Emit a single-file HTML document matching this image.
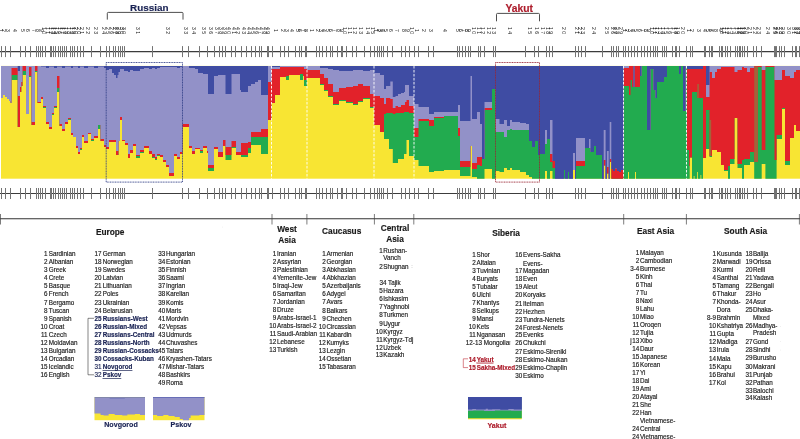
<!DOCTYPE html><html><head><meta charset="utf-8"><title>Admixture</title><style>html,body{margin:0;padding:0;background:#fff}body{width:800px;height:439px;overflow:hidden}</style></head><body><svg width="800" height="439" viewBox="0 0 800 439" style="display:block;font-family:'Liberation Sans',sans-serif;filter:blur(0.35px)">
<rect width="800" height="439" fill="#fff"/>
<g id="chart">
<rect x="1" y="65.9" width="799" height="112.8" fill="#f8e533"/>
<path d="M1 65.9 L1 98 L3 98 L3 95 L5 95 L5 97 L7 97 L7 99 L9 99 L9 101 L10.5 101 L10.5 103 L11.5 103 L11.5 80 L17.7 80 L17.7 127 L20 127 L20 92 L21.3 92 L21.3 86 L22.5 86 L22.5 75 L26 75 L26 114 L29 114 L29 77 L31.5 77 L31.5 125 L35 125 L35 72 L37.5 72 L37.5 103 L41 103 L41 99 L43 99 L43 108 L46 108 L46 124 L49 124 L49 129 L52 129 L52 115 L54 115 L54 108 L57 108 L57 92 L59.5 92 L59.5 126 L62 126 L62 131 L65 131 L65 124 L68 124 L68 120 L71 120 L71 135 L73 135 L73 137 L76 137 L76 148 L78 148 L78 154 L80 154 L80 150 L82 150 L82 137 L84 137 L84 143 L88 143 L88 134 L91 134 L91 141 L94 141 L94 138 L98 138 L98 129 L100.5 129 L100.5 141 L104 141 L104 147 L106 147 L106 149 L109 149 L109 142 L112 142 L112 142 L114 142 L114 142 L116 142 L116 155 L117.5 155 L117.5 155 L118.5 155 L118.5 141 L120 141 L120 120 L122 120 L122 141 L124 141 L124 141 L125 141 L125 145 L128 145 L128 158 L130 158 L130 153 L133 153 L133 146 L136 146 L136 158 L140 158 L140 153 L144 153 L144 148 L149 148 L149 154 L152 154 L152 158 L155 158 L155 160 L157 160 L157 156 L160 156 L160 157 L163 157 L163 162 L166 162 L166 167 L169 167 L169 176 L174 176 L174 156 L177 156 L177 159 L180 159 L180 154 L182.5 154 L182.5 127 L189 127 L189 148 L192 148 L192 154 L195 154 L195 149 L198 149 L198 149 L200 149 L200 153 L203 153 L203 148 L207 148 L207 153 L208 153 L208 171 L214 171 L214 149 L218 149 L218 157 L223 157 L223 146 L225.5 146 L225.5 160 L231.5 160 L231.5 148 L236 148 L236 155 L240 155 L240 155 L241 155 L241 157 L248 157 L248 153 L251 153 L251 145 L255 145 L255 145 L258 145 L258 145 L261 145 L261 154 L268 154 L268 120 L271.5 120 L271.5 103 L275 103 L275 95 L280 95 L280 77 L286 77 L286 80 L289 80 L289 75 L300 75 L300 80 L303 80 L303 76 L304 76 L304 86 L307 86 L307 78 L320 78 L320 85 L324 85 L324 91 L328 91 L328 97 L333 97 L333 105 L339 105 L339 101 L346 101 L346 103 L353 103 L353 105 L358 105 L358 102 L363 102 L363 99 L370 99 L370 108 L374 108 L374 125 L380 125 L380 132 L384 132 L384 139 L386 139 L386 139 L389 139 L389 149 L390.3 149 L390.3 149 L392.8 149 L392.8 163 L395.5 163 L395.5 163 L398 163 L398 159 L401 159 L401 159 L404 159 L404 154 L405 154 L405 154 L406.5 154 L406.5 140 L409 140 L409 156 L414 156 L414 160 L418.5 160 L418.5 166 L429 166 L429 172 L434 172 L434 171 L444 171 L444 170 L458 170 L458 170 L460 170 L460 176 L470.5 176 L470.5 146 L472 146 L472 177 L477 177 L477 178.7 L480 178.7 L480 178.7 L482 178.7 L482 178.7 L484.5 178.7 L484.5 169 L492 169 L492 178.7 L495.5 178.7 L495.5 171 L499.5 171 L499.5 172 L504 172 L504 168 L507 168 L507 170 L510 170 L510 168 L512 168 L512 170 L520 170 L520 172 L526 172 L526 175 L529 175 L529 177 L532 177 L532 178.7 L535 178.7 L535 178.7 L538 178.7 L538 178.7 L540 178.7 L540 178.7 L545 178.7 L545 171 L547 171 L547 178.7 L550 178.7 L550 171 L552.5 171 L552.5 178.7 L555 178.7 L555 178.7 L564 178.7 L564 178.7 L565 178.7 L565 178.7 L568 178.7 L568 178.7 L569 178.7 L569 178.7 L573 178.7 L573 170 L575 170 L575 178.7 L576 178.7 L576 178.7 L585 178.7 L585 178.7 L589 178.7 L589 178.7 L590.5 178.7 L590.5 178.7 L594 178.7 L594 178.7 L596 178.7 L596 178.7 L602 178.7 L602 178.7 L603.7 178.7 L603.7 165.5 L605.6 165.5 L605.6 178.7 L606.9 178.7 L606.9 173.5 L608.7 173.5 L608.7 178.7 L609.7 178.7 L609.7 162 L611.3 162 L611.3 178.7 L613 178.7 L613 178.7 L615 178.7 L615 178.7 L617 178.7 L617 178.7 L619 178.7 L619 178.7 L621 178.7 L621 178.7 L623.5 178.7 L623.5 178.7 L628 178.7 L628 172 L629 172 L629 178.7 L630.5 178.7 L630.5 178.7 L632 178.7 L632 178.7 L633.5 178.7 L633.5 178.7 L634.5 178.7 L634.5 178.7 L635 178.7 L635 172 L636 172 L636 178.7 L640 178.7 L640 178.7 L641.5 178.7 L641.5 178.7 L647 178.7 L647 178.7 L650.5 178.7 L650.5 178.7 L653.5 178.7 L653.5 178.7 L655.5 178.7 L655.5 178.7 L657 178.7 L657 178.7 L664 178.7 L664 178.7 L667 178.7 L667 178.7 L679 178.7 L679 178.7 L681 178.7 L681 178.7 L683 178.7 L683 178.7 L685.5 178.7 L685.5 178.7 L687 178.7 L687 178.7 L689 178.7 L689 178.7 L689.7 178.7 L689.7 157.5 L692 157.5 L692 178.7 L693.7 178.7 L693.7 176 L694.5 176 L694.5 178.7 L697.2 178.7 L697.2 172 L698 172 L698 178.7 L700.5 178.7 L700.5 175 L701.3 175 L701.3 178.7 L703 178.7 L703 158 L706 158 L706 149 L709.5 149 L709.5 157 L712 157 L712 150 L715 150 L715 150 L717 150 L717 152 L721 152 L721 165 L724 165 L724 171 L728 171 L728 178.7 L730 178.7 L730 164 L734.5 164 L734.5 118 L737.5 118 L737.5 168 L742 168 L742 178.7 L744 178.7 L744 165 L747 165 L747 165 L750 165 L750 162 L754.2 162 L754.2 178.7 L757.9 178.7 L757.9 178.7 L761.7 178.7 L761.7 164 L765.4 164 L765.4 178.7 L774.5 178.7 L774.5 178.7 L776.6 178.7 L776.6 139 L782 139 L782 109 L785 109 L785 165 L790 165 L790 138 L794 138 L794 125 L796 125 L796 131 L800 131 L800 65.9 Z" fill="#22ab4f"/>
<path d="M1 65.9 L1 98 L3 98 L3 95 L5 95 L5 97 L7 97 L7 99 L9 99 L9 101 L10.5 101 L10.5 103 L11.5 103 L11.5 75 L17.7 75 L17.7 127 L20 127 L20 92 L21.3 92 L21.3 86 L22.5 86 L22.5 71 L26 71 L26 114 L29 114 L29 76 L31.5 76 L31.5 125 L35 125 L35 71 L37.5 71 L37.5 103 L41 103 L41 99 L43 99 L43 107 L46 107 L46 124 L49 124 L49 129 L52 129 L52 114 L54 114 L54 107 L57 107 L57 88 L59.5 88 L59.5 126 L62 126 L62 131 L65 131 L65 124 L68 124 L68 119 L71 119 L71 135 L73 135 L73 137 L76 137 L76 148 L78 148 L78 154 L80 154 L80 149 L82 149 L82 137 L84 137 L84 143 L88 143 L88 134 L91 134 L91 140 L94 140 L94 138 L98 138 L98 125 L100.5 125 L100.5 141 L104 141 L104 147 L106 147 L106 149 L109 149 L109 142 L112 142 L112 142 L114 142 L114 142 L116 142 L116 155 L117.5 155 L117.5 155 L118.5 155 L118.5 141 L120 141 L120 120 L122 120 L122 141 L124 141 L124 141 L125 141 L125 145 L128 145 L128 158 L130 158 L130 153 L133 153 L133 146 L136 146 L136 156 L140 156 L140 152 L144 152 L144 148 L149 148 L149 154 L152 154 L152 157 L155 157 L155 159 L157 159 L157 155 L160 155 L160 157 L163 157 L163 162 L166 162 L166 167 L169 167 L169 176 L174 176 L174 156 L177 156 L177 159 L180 159 L180 154 L182.5 154 L182.5 127 L189 127 L189 148 L192 148 L192 154 L195 154 L195 149 L198 149 L198 149 L200 149 L200 151 L203 151 L203 148 L207 148 L207 153 L208 153 L208 168 L214 168 L214 149 L218 149 L218 157 L223 157 L223 146 L225.5 146 L225.5 155 L231.5 155 L231.5 147 L236 147 L236 155 L240 155 L240 155 L241 155 L241 155 L248 155 L248 148 L251 148 L251 137 L255 137 L255 137 L258 137 L258 137 L261 137 L261 137 L268 137 L268 120 L271.5 120 L271.5 103 L275 103 L275 95 L280 95 L280 77 L286 77 L286 76 L289 76 L289 75 L300 75 L300 74 L303 74 L303 76 L304 76 L304 80 L307 80 L307 78 L320 78 L320 84 L324 84 L324 90 L328 90 L328 96 L333 96 L333 104 L339 104 L339 100 L346 100 L346 102 L353 102 L353 104 L358 104 L358 101 L363 101 L363 98 L370 98 L370 107 L374 107 L374 125 L380 125 L380 132 L384 132 L384 114 L386 114 L386 113 L389 113 L389 113 L390.3 113 L390.3 113 L392.8 113 L392.8 114 L395.5 114 L395.5 113 L398 113 L398 113 L401 113 L401 113 L404 113 L404 112 L405 112 L405 112 L406.5 112 L406.5 112 L409 112 L409 113 L414 113 L414 137 L418.5 137 L418.5 121 L429 121 L429 126 L434 126 L434 118 L444 118 L444 116 L458 116 L458 136 L460 136 L460 167 L470.5 167 L470.5 146 L472 146 L472 169 L477 169 L477 165 L480 165 L480 166 L482 166 L482 159 L484.5 159 L484.5 110 L492 110 L492 89 L495.5 89 L495.5 132 L499.5 132 L499.5 132 L504 132 L504 137 L507 137 L507 130 L510 130 L510 129 L512 129 L512 130 L520 130 L520 130 L526 130 L526 130 L529 130 L529 141 L532 141 L532 147 L535 147 L535 141 L538 141 L538 155 L540 155 L540 154 L545 154 L545 144 L547 144 L547 139 L550 139 L550 162 L552.5 162 L552.5 168 L555 168 L555 178.7 L564 178.7 L564 170 L565 170 L565 178.7 L568 178.7 L568 172 L569 172 L569 178.7 L573 178.7 L573 170 L575 170 L575 178.7 L576 178.7 L576 166 L585 166 L585 148 L589 148 L589 148 L590.5 148 L590.5 152 L594 152 L594 146 L596 146 L596 155 L602 155 L602 178.7 L603.7 178.7 L603.7 165.5 L605.6 165.5 L605.6 178.7 L606.9 178.7 L606.9 173.5 L608.7 173.5 L608.7 178.7 L609.7 178.7 L609.7 162 L611.3 162 L611.3 178.7 L613 178.7 L613 178.7 L615 178.7 L615 178.7 L617 178.7 L617 178.7 L619 178.7 L619 178.7 L621 178.7 L621 178.7 L623.5 178.7 L623.5 86 L628 86 L628 86 L629 86 L629 95 L630.5 95 L630.5 80 L632 80 L632 87 L633.5 87 L633.5 87 L634.5 87 L634.5 87 L635 87 L635 87 L636 87 L636 87 L640 87 L640 76 L641.5 76 L641.5 66 L647 66 L647 130 L650.5 130 L650.5 69 L653.5 69 L653.5 90 L655.5 90 L655.5 98 L657 98 L657 82 L664 82 L664 77 L667 77 L667 66 L679 66 L679 74 L681 74 L681 66 L683 66 L683 111 L685.5 111 L685.5 66 L687 66 L687 150 L689 150 L689 166 L689.7 166 L689.7 157.5 L692 157.5 L692 92 L693.7 92 L693.7 92 L694.5 92 L694.5 92 L697.2 92 L697.2 98 L698 98 L698 98 L700.5 98 L700.5 98 L701.3 98 L701.3 98 L703 98 L703 158 L706 158 L706 110 L709.5 110 L709.5 156 L712 156 L712 150 L715 150 L715 150 L717 150 L717 152 L721 152 L721 165 L724 165 L724 170 L728 170 L728 166 L730 166 L730 159 L734.5 159 L734.5 118 L737.5 118 L737.5 164 L742 164 L742 160 L744 160 L744 159 L747 159 L747 159 L750 159 L750 152 L754.2 152 L754.2 162 L757.9 162 L757.9 67 L761.7 67 L761.7 150 L765.4 150 L765.4 67 L774.5 67 L774.5 160 L776.6 160 L776.6 135 L782 135 L782 108 L785 108 L785 161 L790 161 L790 138 L794 138 L794 125 L796 125 L796 131 L800 131 L800 65.9 Z" fill="#e2222a"/>
<path d="M1 65.9 L1 98 L3 98 L3 95 L5 95 L5 97 L7 97 L7 99 L9 99 L9 101 L10.5 101 L10.5 103 L11.5 103 L11.5 68 L17.7 68 L17.7 96 L20 96 L20 87 L21.3 87 L21.3 82 L22.5 82 L22.5 66 L26 66 L26 114 L29 114 L29 67 L31.5 67 L31.5 122 L35 122 L35 66 L37.5 66 L37.5 102 L41 102 L41 97 L43 97 L43 106 L46 106 L46 122 L49 122 L49 127 L52 127 L52 113 L54 113 L54 106 L57 106 L57 76 L59.5 76 L59.5 124 L62 124 L62 129 L65 129 L65 122 L68 122 L68 118 L71 118 L71 133 L73 133 L73 137 L76 137 L76 146 L78 146 L78 152 L80 152 L80 148 L82 148 L82 135 L84 135 L84 141 L88 141 L88 133 L91 133 L91 139 L94 139 L94 136 L98 136 L98 125 L100.5 125 L100.5 139 L104 139 L104 145 L106 145 L106 147 L109 147 L109 140 L112 140 L112 140 L114 140 L114 140 L116 140 L116 151 L117.5 151 L117.5 151 L118.5 151 L118.5 141 L120 141 L120 117 L122 117 L122 140 L124 140 L124 140 L125 140 L125 143 L128 143 L128 154 L130 154 L130 150 L133 150 L133 144 L136 144 L136 155 L140 155 L140 150 L144 150 L144 146 L149 146 L149 151 L152 151 L152 154 L155 154 L155 157 L157 157 L157 154 L160 154 L160 155 L163 155 L163 160 L166 160 L166 165 L169 165 L169 173 L174 173 L174 154 L177 154 L177 157 L180 157 L180 152 L182.5 152 L182.5 124 L189 124 L189 146 L192 146 L192 151 L195 151 L195 148 L198 148 L198 148 L200 148 L200 150 L203 150 L203 146 L207 146 L207 151 L208 151 L208 165 L214 165 L214 147 L218 147 L218 152 L223 152 L223 140 L225.5 140 L225.5 147 L231.5 147 L231.5 141 L236 141 L236 152 L240 152 L240 152 L241 152 L241 143 L248 143 L248 142 L251 142 L251 132 L255 132 L255 132 L258 132 L258 132 L261 132 L261 129 L268 129 L268 82 L271.5 82 L271.5 69 L275 69 L275 69 L280 69 L280 67 L286 67 L286 67 L289 67 L289 67 L300 67 L300 67 L303 67 L303 67 L304 67 L304 69 L307 69 L307 70 L320 70 L320 74 L324 74 L324 78 L328 78 L328 84 L333 84 L333 92 L339 92 L339 88 L346 88 L346 87 L353 87 L353 86 L358 86 L358 84 L363 84 L363 86 L370 86 L370 94 L374 94 L374 96 L380 96 L380 98 L384 98 L384 104 L386 104 L386 98 L389 98 L389 98 L390.3 98 L390.3 99 L392.8 99 L392.8 108 L395.5 108 L395.5 106 L398 106 L398 107 L401 107 L401 105 L404 105 L404 105 L405 105 L405 102 L406.5 102 L406.5 100 L409 100 L409 106 L414 106 L414 128 L418.5 128 L418.5 119 L429 119 L429 120 L434 120 L434 117 L444 117 L444 116 L458 116 L458 128 L460 128 L460 161 L470.5 161 L470.5 146 L472 146 L472 163 L477 163 L477 157 L480 157 L480 157 L482 157 L482 159 L484.5 159 L484.5 108 L492 108 L492 89 L495.5 89 L495.5 132 L499.5 132 L499.5 132 L504 132 L504 137 L507 137 L507 130 L510 130 L510 129 L512 129 L512 130 L520 130 L520 130 L526 130 L526 130 L529 130 L529 141 L532 141 L532 147 L535 147 L535 141 L538 141 L538 155 L540 155 L540 154 L545 154 L545 144 L547 144 L547 139 L550 139 L550 154 L552.5 154 L552.5 161 L555 161 L555 178.7 L564 178.7 L564 170 L565 170 L565 178.7 L568 178.7 L568 172 L569 172 L569 178.7 L573 178.7 L573 170 L575 170 L575 178.7 L576 178.7 L576 161 L585 161 L585 148 L589 148 L589 148 L590.5 148 L590.5 152 L594 152 L594 146 L596 146 L596 155 L602 155 L602 178.7 L603.7 178.7 L603.7 160 L605.6 160 L605.6 178.7 L606.9 178.7 L606.9 167 L608.7 167 L608.7 178.7 L609.7 178.7 L609.7 159 L611.3 159 L611.3 169 L613 169 L613 171 L615 171 L615 168.5 L617 168.5 L617 171 L619 171 L619 172 L621 172 L621 170 L623.5 170 L623.5 68 L628 68 L628 68 L629 68 L629 66 L630.5 66 L630.5 66 L632 66 L632 66 L633.5 66 L633.5 87 L634.5 87 L634.5 66 L635 66 L635 66 L636 66 L636 66 L640 66 L640 76 L641.5 76 L641.5 66 L647 66 L647 130 L650.5 130 L650.5 69 L653.5 69 L653.5 90 L655.5 90 L655.5 98 L657 98 L657 82 L664 82 L664 77 L667 77 L667 66 L679 66 L679 74 L681 74 L681 66 L683 66 L683 111 L685.5 111 L685.5 66 L687 66 L687 69 L689 69 L689 69 L689.7 69 L689.7 69 L692 69 L692 69 L693.7 69 L693.7 69 L694.5 69 L694.5 69 L697.2 69 L697.2 69 L698 69 L698 69 L700.5 69 L700.5 69 L701.3 69 L701.3 69 L703 69 L703 66 L706 66 L706 97 L709.5 97 L709.5 72 L712 72 L712 78 L715 78 L715 72 L717 72 L717 69 L721 69 L721 67 L724 67 L724 67 L728 67 L728 67 L730 67 L730 67 L734.5 67 L734.5 72 L737.5 72 L737.5 70 L742 70 L742 67 L744 67 L744 68 L747 68 L747 72 L750 72 L750 68 L754.2 68 L754.2 66 L757.9 66 L757.9 66 L761.7 66 L761.7 70 L765.4 70 L765.4 66 L774.5 66 L774.5 80 L776.6 80 L776.6 80 L782 80 L782 70 L785 70 L785 76 L790 76 L790 78 L794 78 L794 72 L796 72 L796 70 L800 70 L800 65.9 Z" fill="#9291c8"/>
<path d="M1 65.9 L1 66 L3 66 L3 66 L5 66 L5 66 L7 66 L7 66 L9 66 L9 66 L10.5 66 L10.5 66 L11.5 66 L11.5 66 L17.7 66 L17.7 71 L20 71 L20 66 L21.3 66 L21.3 66 L22.5 66 L22.5 66 L26 66 L26 66 L29 66 L29 66 L31.5 66 L31.5 66 L35 66 L35 66 L37.5 66 L37.5 66 L41 66 L41 66.6 L43 66.6 L43 66.6 L46 66.6 L46 68 L49 68 L49 66.6 L52 66.6 L52 66.6 L54 66.6 L54 68 L57 68 L57 66.6 L59.5 66.6 L59.5 66.6 L62 66.6 L62 68 L65 68 L65 66.6 L68 66.6 L68 66.6 L71 66.6 L71 68 L73 68 L73 66.6 L76 66.6 L76 66.6 L78 66.6 L78 68 L80 68 L80 66.6 L82 66.6 L82 66.6 L84 66.6 L84 68 L88 68 L88 66.6 L91 66.6 L91 66.6 L94 66.6 L94 68 L98 68 L98 66.6 L100.5 66.6 L100.5 66.6 L104 66.6 L104 68 L106 68 L106 70 L109 70 L109 69 L112 69 L112 73 L114 73 L114 75 L116 75 L116 78 L117.5 78 L117.5 75 L118.5 75 L118.5 72 L120 72 L120 69 L122 69 L122 69 L124 69 L124 71 L125 71 L125 71 L128 71 L128 72 L130 72 L130 70 L133 70 L133 71 L136 71 L136 71 L140 71 L140 69 L144 69 L144 68 L149 68 L149 69 L152 69 L152 68 L155 68 L155 69 L157 69 L157 68 L160 68 L160 67 L163 67 L163 67 L166 67 L166 67 L169 67 L169 67 L174 67 L174 67 L177 67 L177 68 L180 68 L180 67 L182.5 67 L182.5 66 L189 66 L189 68 L192 68 L192 68 L195 68 L195 69 L198 69 L198 73 L200 73 L200 73 L203 73 L203 74 L207 74 L207 74 L208 74 L208 94 L214 94 L214 76 L218 76 L218 75 L223 75 L223 75 L225.5 75 L225.5 94 L231.5 94 L231.5 74 L236 74 L236 74 L240 74 L240 90 L241 90 L241 92 L248 92 L248 86 L251 86 L251 84 L255 84 L255 82 L258 82 L258 80 L261 80 L261 95 L268 95 L268 66 L271.5 66 L271.5 67 L275 67 L275 67 L280 67 L280 66 L286 66 L286 66 L289 66 L289 66 L300 66 L300 66 L303 66 L303 66 L304 66 L304 66 L307 66 L307 66 L320 66 L320 68 L324 68 L324 68 L328 68 L328 69 L333 69 L333 70 L339 70 L339 71 L346 71 L346 71 L353 71 L353 70 L358 70 L358 70 L363 70 L363 71 L370 71 L370 70 L374 70 L374 73 L380 73 L380 75 L384 75 L384 89 L386 89 L386 86 L389 86 L389 86 L390.3 86 L390.3 81.5 L392.8 81.5 L392.8 97 L395.5 97 L395.5 96 L398 96 L398 94 L401 94 L401 93 L404 93 L404 92 L405 92 L405 85 L406.5 85 L406.5 85 L409 85 L409 96 L414 96 L414 104 L418.5 104 L418.5 107 L429 107 L429 114 L434 114 L434 112 L444 112 L444 112 L458 112 L458 105 L460 105 L460 121 L470.5 121 L470.5 76 L472 76 L472 119 L477 119 L477 112 L480 112 L480 124 L482 124 L482 159 L484.5 159 L484.5 102 L492 102 L492 89 L495.5 89 L495.5 119 L499.5 119 L499.5 124 L504 124 L504 120 L507 120 L507 126 L510 126 L510 120 L512 120 L512 122 L520 122 L520 123 L526 123 L526 124 L529 124 L529 141 L532 141 L532 147 L535 147 L535 141 L538 141 L538 155 L540 155 L540 154 L545 154 L545 130 L547 130 L547 139 L550 139 L550 120 L552.5 120 L552.5 161 L555 161 L555 178.7 L564 178.7 L564 170 L565 170 L565 178.7 L568 178.7 L568 172 L569 172 L569 178.7 L573 178.7 L573 153 L575 153 L575 178.7 L576 178.7 L576 138 L585 138 L585 148 L589 148 L589 139 L590.5 139 L590.5 152 L594 152 L594 146 L596 146 L596 155 L602 155 L602 178.7 L603.7 178.7 L603.7 130 L605.6 130 L605.6 178.7 L606.9 178.7 L606.9 151 L608.7 151 L608.7 178.7 L609.7 178.7 L609.7 122 L611.3 122 L611.3 169 L613 169 L613 171 L615 171 L615 168.5 L617 168.5 L617 171 L619 171 L619 172 L621 172 L621 170 L623.5 170 L623.5 66 L628 66 L628 66 L629 66 L629 66 L630.5 66 L630.5 66 L632 66 L632 66 L633.5 66 L633.5 87 L634.5 87 L634.5 66 L635 66 L635 66 L636 66 L636 66 L640 66 L640 76 L641.5 76 L641.5 66 L647 66 L647 130 L650.5 130 L650.5 69 L653.5 69 L653.5 90 L655.5 90 L655.5 98 L657 98 L657 82 L664 82 L664 77 L667 77 L667 66 L679 66 L679 74 L681 74 L681 66 L683 66 L683 111 L685.5 111 L685.5 66 L687 66 L687 69 L689 69 L689 69 L689.7 69 L689.7 69 L692 69 L692 69 L693.7 69 L693.7 69 L694.5 69 L694.5 69 L697.2 69 L697.2 69 L698 69 L698 69 L700.5 69 L700.5 69 L701.3 69 L701.3 69 L703 69 L703 66 L706 66 L706 85 L709.5 85 L709.5 66 L712 66 L712 66 L715 66 L715 66 L717 66 L717 66 L721 66 L721 66 L724 66 L724 66 L728 66 L728 66 L730 66 L730 66 L734.5 66 L734.5 66 L737.5 66 L737.5 66 L742 66 L742 66 L744 66 L744 66 L747 66 L747 66 L750 66 L750 66 L754.2 66 L754.2 66 L757.9 66 L757.9 66 L761.7 66 L761.7 66 L765.4 66 L765.4 66 L774.5 66 L774.5 66 L776.6 66 L776.6 66 L782 66 L782 66 L785 66 L785 66 L790 66 L790 66 L794 66 L794 66 L796 66 L796 66 L800 66 L800 65.9 Z" fill="#3f4ca3"/>
<rect x="754.2" y="66.5" width="3.7" height="95.5" fill="#a5623a"/>
<rect x="697.3" y="84" width="1.6" height="14" fill="#a5623a"/>
<rect x="709.6" y="120" width="1.6" height="36" fill="#a5623a"/>
<line x1="271.5" y1="65.9" x2="271.5" y2="178.7" stroke="#fff" stroke-width="0.9" stroke-dasharray="2.6 1.4"/>
<line x1="307" y1="65.9" x2="307" y2="178.7" stroke="#fff" stroke-width="0.9" stroke-dasharray="2.6 1.4"/>
<line x1="374" y1="65.9" x2="374" y2="178.7" stroke="#fff" stroke-width="0.9" stroke-dasharray="2.6 1.4"/>
<line x1="414" y1="65.9" x2="414" y2="178.7" stroke="#fff" stroke-width="0.9" stroke-dasharray="2.6 1.4"/>
<line x1="623.5" y1="65.9" x2="623.5" y2="178.7" stroke="#fff" stroke-width="0.9" stroke-dasharray="2.6 1.4"/>
<line x1="686.5" y1="65.9" x2="686.5" y2="178.7" stroke="#fff" stroke-width="0.9" stroke-dasharray="2.6 1.4"/>
</g>
<rect x="106.2" y="62.5" width="76.3" height="119.6" fill="none" stroke="#2f3d85" stroke-width="0.85" stroke-dasharray="1.1 0.55"/>
<rect x="495.5" y="62.5" width="44" height="119.6" fill="none" stroke="#9a2533" stroke-width="0.85" stroke-dasharray="1.1 0.55"/>
<line x1="0" y1="51.6" x2="800" y2="51.6" stroke="#3c3c3c" stroke-width="1.1"/>
<path d="M1.5 46.1V57.1M5.5 46.1V57.1M10.5 46.1V57.1M20.5 46.1V57.1M25.5 46.1V57.1M30.5 46.1V57.1M36.5 46.1V57.1M38.5 46.1V57.1M40.5 46.1V57.1M42.5 46.1V57.1M45.5 46.1V57.1M50.5 46.1V57.1M51.5 46.1V57.1M53.5 46.1V57.1M55.5 46.1V57.1M58.5 46.1V57.1M60.5 46.1V57.1M62.5 46.1V57.1M64.5 46.1V57.1M66.5 46.1V57.1M70.5 46.1V57.1M72.5 46.1V57.1M74.5 46.1V57.1M77.5 46.1V57.1M80.5 46.1V57.1M83.5 46.1V57.1M91.5 46.1V57.1M100.5 46.1V57.1M106.5 46.1V57.1M109.5 46.1V57.1M113.5 46.1V57.1M115.5 46.1V57.1M118.5 46.1V57.1M120.5 46.1V57.1M122.5 46.1V57.1M124.5 46.1V57.1M152.5 46.1V57.1M182.5 46.1V57.1M188.5 46.1V57.1M199.5 46.1V57.1M207.5 46.1V57.1M214.5 46.1V57.1M219.5 46.1V57.1M222.5 46.1V57.1M225.5 46.1V57.1M231.5 46.1V57.1M235.5 46.1V57.1M241.5 46.1V57.1M246.5 46.1V57.1M251.5 46.1V57.1M255.5 46.1V57.1M259.5 46.1V57.1M261.5 46.1V57.1M267.5 46.1V57.1M268.5 46.1V57.1M272.5 46.1V57.1M280.5 46.1V57.1M284.5 46.1V57.1M288.5 46.1V57.1M295.5 46.1V57.1M299.5 46.1V57.1M301.5 46.1V57.1M305.5 46.1V57.1M306.5 46.1V57.1M316.5 46.1V57.1M319.5 46.1V57.1M322.5 46.1V57.1M326.5 46.1V57.1M330.5 46.1V57.1M332.5 46.1V57.1M337.5 46.1V57.1M341.5 46.1V57.1M342.5 46.1V57.1M346.5 46.1V57.1M352.5 46.1V57.1M356.5 46.1V57.1M364.5 46.1V57.1M370.5 46.1V57.1M374.5 46.1V57.1M377.5 46.1V57.1M379.5 46.1V57.1M381.5 46.1V57.1M383.5 46.1V57.1M387.5 46.1V57.1M392.5 46.1V57.1M401.5 46.1V57.1M405.5 46.1V57.1M409.5 46.1V57.1M414.5 46.1V57.1M418.5 46.1V57.1M428.5 46.1V57.1M433.5 46.1V57.1M457.5 46.1V57.1M459.5 46.1V57.1M462.5 46.1V57.1M465.5 46.1V57.1M468.5 46.1V57.1M470.5 46.1V57.1M478.5 46.1V57.1M480.5 46.1V57.1M484.5 46.1V57.1M493.5 46.1V57.1M495.5 46.1V57.1M525.5 46.1V57.1M534.5 46.1V57.1M538.5 46.1V57.1M546.5 46.1V57.1M549.5 46.1V57.1M552.5 46.1V57.1M575.5 46.1V57.1M578.5 46.1V57.1M581.5 46.1V57.1M585.5 46.1V57.1M602.5 46.1V57.1M611.5 46.1V57.1M613.5 46.1V57.1M616.5 46.1V57.1M618.5 46.1V57.1M623.5 46.1V57.1M625.5 46.1V57.1M628.5 46.1V57.1M631.5 46.1V57.1M634.5 46.1V57.1M637.5 46.1V57.1M641.5 46.1V57.1M644.5 46.1V57.1M647.5 46.1V57.1M650.5 46.1V57.1M653.5 46.1V57.1M655.5 46.1V57.1M657.5 46.1V57.1M662.5 46.1V57.1M664.5 46.1V57.1M666.5 46.1V57.1M672.5 46.1V57.1M675.5 46.1V57.1M676.5 46.1V57.1M679.5 46.1V57.1M686.5 46.1V57.1M690.5 46.1V57.1M692.5 46.1V57.1M704.5 46.1V57.1M705.5 46.1V57.1M709.5 46.1V57.1M711.5 46.1V57.1M712.5 46.1V57.1M719.5 46.1V57.1M721.5 46.1V57.1M722.5 46.1V57.1M725.5 46.1V57.1M727.5 46.1V57.1M730.5 46.1V57.1M735.5 46.1V57.1M737.5 46.1V57.1M739.5 46.1V57.1M740.5 46.1V57.1M742.5 46.1V57.1M744.5 46.1V57.1M747.5 46.1V57.1M753.5 46.1V57.1M756.5 46.1V57.1M761.5 46.1V57.1M774.5 46.1V57.1M775.5 46.1V57.1M776.5 46.1V57.1M779.5 46.1V57.1M781.5 46.1V57.1M784.5 46.1V57.1M792.5 46.1V57.1M795.5 46.1V57.1M796.5 46.1V57.1M799.5 46.1V57.1" stroke="#747474" stroke-width="1" fill="none"/>
<line x1="0" y1="193.5" x2="800" y2="193.5" stroke="#3c3c3c" stroke-width="1.1"/>
<path d="M1.5 188V199M5.5 188V199M10.5 188V199M20.5 188V199M25.5 188V199M30.5 188V199M36.5 188V199M38.5 188V199M40.5 188V199M42.5 188V199M45.5 188V199M50.5 188V199M51.5 188V199M53.5 188V199M55.5 188V199M58.5 188V199M60.5 188V199M62.5 188V199M64.5 188V199M66.5 188V199M70.5 188V199M72.5 188V199M74.5 188V199M77.5 188V199M80.5 188V199M83.5 188V199M91.5 188V199M100.5 188V199M106.5 188V199M109.5 188V199M113.5 188V199M115.5 188V199M118.5 188V199M120.5 188V199M122.5 188V199M124.5 188V199M152.5 188V199M182.5 188V199M188.5 188V199M199.5 188V199M207.5 188V199M214.5 188V199M219.5 188V199M222.5 188V199M225.5 188V199M231.5 188V199M235.5 188V199M241.5 188V199M246.5 188V199M251.5 188V199M255.5 188V199M259.5 188V199M261.5 188V199M267.5 188V199M268.5 188V199M272.5 188V199M280.5 188V199M284.5 188V199M288.5 188V199M295.5 188V199M299.5 188V199M301.5 188V199M305.5 188V199M306.5 188V199M316.5 188V199M319.5 188V199M322.5 188V199M326.5 188V199M330.5 188V199M332.5 188V199M337.5 188V199M341.5 188V199M342.5 188V199M346.5 188V199M352.5 188V199M356.5 188V199M364.5 188V199M370.5 188V199M374.5 188V199M377.5 188V199M379.5 188V199M381.5 188V199M383.5 188V199M387.5 188V199M392.5 188V199M401.5 188V199M405.5 188V199M409.5 188V199M414.5 188V199M418.5 188V199M428.5 188V199M433.5 188V199M457.5 188V199M459.5 188V199M462.5 188V199M465.5 188V199M468.5 188V199M470.5 188V199M478.5 188V199M480.5 188V199M484.5 188V199M493.5 188V199M495.5 188V199M525.5 188V199M534.5 188V199M538.5 188V199M546.5 188V199M549.5 188V199M552.5 188V199M575.5 188V199M578.5 188V199M581.5 188V199M585.5 188V199M602.5 188V199M611.5 188V199M613.5 188V199M616.5 188V199M618.5 188V199M623.5 188V199M625.5 188V199M628.5 188V199M631.5 188V199M634.5 188V199M637.5 188V199M641.5 188V199M644.5 188V199M647.5 188V199M650.5 188V199M653.5 188V199M655.5 188V199M657.5 188V199M662.5 188V199M664.5 188V199M666.5 188V199M672.5 188V199M675.5 188V199M676.5 188V199M679.5 188V199M686.5 188V199M690.5 188V199M692.5 188V199M704.5 188V199M705.5 188V199M709.5 188V199M711.5 188V199M712.5 188V199M719.5 188V199M721.5 188V199M722.5 188V199M725.5 188V199M727.5 188V199M730.5 188V199M735.5 188V199M737.5 188V199M739.5 188V199M740.5 188V199M742.5 188V199M744.5 188V199M747.5 188V199M753.5 188V199M756.5 188V199M761.5 188V199M774.5 188V199M775.5 188V199M776.5 188V199M779.5 188V199M781.5 188V199M784.5 188V199M792.5 188V199M795.5 188V199M796.5 188V199M799.5 188V199" stroke="#747474" stroke-width="1" fill="none"/>
<line x1="0" y1="218.8" x2="800" y2="218.8" stroke="#333" stroke-width="1.1"/>
<path d="M0.5 214V224.5M272 214V224.5M306.9 214V224.5M374.4 214V224.5M413.8 214V224.5M623.7 214V224.5M686.4 214V224.5M799.4 214V224.5" stroke="#444" stroke-width="0.7" fill="none"/>
<g font-size="5" fill="#1a1a1a" text-anchor="middle">
<text transform="translate(-1.15 30.5) rotate(90)">1</text>
<text transform="translate(1.6 30.5) rotate(90)">2</text>
<text transform="translate(5.95 30.5) rotate(90)">3</text>
<text transform="translate(13.2 30.5) rotate(90)">4</text>
<text transform="translate(20.95 30.5) rotate(90)">5</text>
<text transform="translate(26.2 30.5) rotate(90)">6</text>
<text transform="translate(31.85 30.5) rotate(90)">7</text>
<text transform="translate(36 30.5) rotate(90)">8</text>
<text transform="translate(39.7 30.5) rotate(90)">9</text>
<text transform="translate(41.95 28.4) rotate(90)">1</text>
<text transform="translate(41.95 32.7) rotate(90)">0</text>
<text transform="translate(45.7 28.4) rotate(90)">1</text>
<text transform="translate(45.7 32.7) rotate(90)">1</text>
<text transform="translate(49.1 28.4) rotate(90)">1</text>
<text transform="translate(49.1 32.7) rotate(90)">2</text>
<text transform="translate(51 28.4) rotate(90)">1</text>
<text transform="translate(51 32.7) rotate(90)">3</text>
<text transform="translate(52.85 28.4) rotate(90)">1</text>
<text transform="translate(52.85 32.7) rotate(90)">4</text>
<text transform="translate(55.35 28.4) rotate(90)">1</text>
<text transform="translate(55.35 32.7) rotate(90)">5</text>
<text transform="translate(58 28.4) rotate(90)">1</text>
<text transform="translate(58 32.7) rotate(90)">6</text>
<text transform="translate(59.85 28.4) rotate(90)">1</text>
<text transform="translate(59.85 32.7) rotate(90)">7</text>
<text transform="translate(61.7 28.4) rotate(90)">1</text>
<text transform="translate(61.7 32.7) rotate(90)">7</text>
<text transform="translate(63.6 28.4) rotate(90)">1</text>
<text transform="translate(63.6 32.7) rotate(90)">8</text>
<text transform="translate(66.75 28.4) rotate(90)">1</text>
<text transform="translate(66.75 32.7) rotate(90)">8</text>
<text transform="translate(69.85 28.4) rotate(90)">1</text>
<text transform="translate(69.85 32.7) rotate(90)">9</text>
<text transform="translate(71.6 28.4) rotate(90)">1</text>
<text transform="translate(71.6 32.7) rotate(90)">9</text>
<text transform="translate(73.85 28.4) rotate(90)">2</text>
<text transform="translate(73.85 32.7) rotate(90)">0</text>
<text transform="translate(76.7 28.4) rotate(90)">2</text>
<text transform="translate(76.7 32.7) rotate(90)">0</text>
<text transform="translate(80.1 28.4) rotate(90)">2</text>
<text transform="translate(80.1 32.7) rotate(90)">1</text>
<text transform="translate(85.75 28.4) rotate(90)">2</text>
<text transform="translate(85.75 32.7) rotate(90)">2</text>
<text transform="translate(94.25 28.4) rotate(90)">2</text>
<text transform="translate(94.25 32.7) rotate(90)">3</text>
<text transform="translate(101.75 28.4) rotate(90)">2</text>
<text transform="translate(101.75 32.7) rotate(90)">4</text>
<text transform="translate(106 28.4) rotate(90)">2</text>
<text transform="translate(106 32.7) rotate(90)">5</text>
<text transform="translate(109.75 28.4) rotate(90)">2</text>
<text transform="translate(109.75 32.7) rotate(90)">6</text>
<text transform="translate(113 28.4) rotate(90)">2</text>
<text transform="translate(113 32.7) rotate(90)">7</text>
<text transform="translate(115.1 28.4) rotate(90)">2</text>
<text transform="translate(115.1 32.7) rotate(90)">8</text>
<text transform="translate(117.45 28.4) rotate(90)">2</text>
<text transform="translate(117.45 32.7) rotate(90)">9</text>
<text transform="translate(119.7 28.4) rotate(90)">3</text>
<text transform="translate(119.7 32.7) rotate(90)">0</text>
<text transform="translate(121.7 28.4) rotate(90)">3</text>
<text transform="translate(121.7 32.7) rotate(90)">0</text>
<text transform="translate(136.45 28.4) rotate(90)">3</text>
<text transform="translate(136.45 32.7) rotate(90)">1</text>
<text transform="translate(165.5 28.4) rotate(90)">3</text>
<text transform="translate(165.5 32.7) rotate(90)">2</text>
<text transform="translate(183.5 28.4) rotate(90)">3</text>
<text transform="translate(183.5 32.7) rotate(90)">3</text>
<text transform="translate(191.85 28.4) rotate(90)">3</text>
<text transform="translate(191.85 32.7) rotate(90)">4</text>
<text transform="translate(201.7 28.4) rotate(90)">3</text>
<text transform="translate(201.7 32.7) rotate(90)">5</text>
<text transform="translate(209.4 28.4) rotate(90)">3</text>
<text transform="translate(209.4 32.7) rotate(90)">6</text>
<text transform="translate(215.05 28.4) rotate(90)">3</text>
<text transform="translate(215.05 32.7) rotate(90)">7</text>
<text transform="translate(219.1 28.4) rotate(90)">3</text>
<text transform="translate(219.1 32.7) rotate(90)">8</text>
<text transform="translate(222.5 28.4) rotate(90)">3</text>
<text transform="translate(222.5 32.7) rotate(90)">9</text>
<text transform="translate(226.85 28.4) rotate(90)">4</text>
<text transform="translate(226.85 32.7) rotate(90)">0</text>
<text transform="translate(231.6 28.4) rotate(90)">4</text>
<text transform="translate(231.6 32.7) rotate(90)">1</text>
<text transform="translate(236.45 28.4) rotate(90)">4</text>
<text transform="translate(236.45 32.7) rotate(90)">2</text>
<text transform="translate(242.1 28.4) rotate(90)">4</text>
<text transform="translate(242.1 32.7) rotate(90)">3</text>
<text transform="translate(247.15 28.4) rotate(90)">4</text>
<text transform="translate(247.15 32.7) rotate(90)">4</text>
<text transform="translate(251.35 28.4) rotate(90)">4</text>
<text transform="translate(251.35 32.7) rotate(90)">5</text>
<text transform="translate(255.35 28.4) rotate(90)">4</text>
<text transform="translate(255.35 32.7) rotate(90)">6</text>
<text transform="translate(258.5 28.4) rotate(90)">4</text>
<text transform="translate(258.5 32.7) rotate(90)">7</text>
<text transform="translate(262.7 28.4) rotate(90)">4</text>
<text transform="translate(262.7 32.7) rotate(90)">8</text>
<text transform="translate(266.45 28.4) rotate(90)">4</text>
<text transform="translate(266.45 32.7) rotate(90)">9</text>
<text transform="translate(274.2 30.5) rotate(90)">1</text>
<text transform="translate(280.6 30.5) rotate(90)">2</text>
<text transform="translate(284.8 30.5) rotate(90)">3</text>
<text transform="translate(290.2 30.5) rotate(90)">4</text>
<text transform="translate(295.5 30.5) rotate(90)">5</text>
<text transform="translate(298.45 30.5) rotate(90)">6</text>
<text transform="translate(301.55 30.5) rotate(90)">7</text>
<text transform="translate(304.3 30.5) rotate(90)">8</text>
<text transform="translate(310 30.5) rotate(90)">1</text>
<text transform="translate(316 30.5) rotate(90)">2</text>
<text transform="translate(318.7 30.5) rotate(90)">3</text>
<text transform="translate(322.2 30.5) rotate(90)">4</text>
<text transform="translate(326.2 30.5) rotate(90)">5</text>
<text transform="translate(329.45 30.5) rotate(90)">6</text>
<text transform="translate(332.95 30.5) rotate(90)">7</text>
<text transform="translate(337.3 30.5) rotate(90)">8</text>
<text transform="translate(340.25 30.5) rotate(90)">9</text>
<text transform="translate(343 28.4) rotate(90)">1</text>
<text transform="translate(343 32.7) rotate(90)">0</text>
<text transform="translate(347.85 28.4) rotate(90)">1</text>
<text transform="translate(347.85 32.7) rotate(90)">1</text>
<text transform="translate(352.5 28.4) rotate(90)">1</text>
<text transform="translate(352.5 32.7) rotate(90)">2</text>
<text transform="translate(358.6 28.4) rotate(90)">1</text>
<text transform="translate(358.6 32.7) rotate(90)">3</text>
<text transform="translate(365.7 28.4) rotate(90)">1</text>
<text transform="translate(365.7 32.7) rotate(90)">4</text>
<text transform="translate(370.5 28.4) rotate(90)">1</text>
<text transform="translate(370.5 32.7) rotate(90)">5</text>
<text transform="translate(374.25 30.5) rotate(90)">1</text>
<text transform="translate(376.75 30.5) rotate(90)">2</text>
<text transform="translate(378.4 30.5) rotate(90)">3</text>
<text transform="translate(380.5 30.5) rotate(90)">4</text>
<text transform="translate(383.9 30.5) rotate(90)">5</text>
<text transform="translate(388.5 30.5) rotate(90)">6</text>
<text transform="translate(395.45 30.5) rotate(90)">7</text>
<text transform="translate(401.75 30.5) rotate(90)">8</text>
<text transform="translate(405.65 30.5) rotate(90)">9</text>
<text transform="translate(409.95 28.4) rotate(90)">1</text>
<text transform="translate(409.95 32.7) rotate(90)">0</text>
<text transform="translate(414.6 30.5) rotate(90)">1</text>
<text transform="translate(422 30.5) rotate(90)">2</text>
<text transform="translate(429.1 30.5) rotate(90)">3</text>
<text transform="translate(443.2 30.5) rotate(90)">4</text>
<text transform="translate(456.45 30.5) rotate(90)">5</text>
<text transform="translate(459.2 30.5) rotate(90)">6</text>
<text transform="translate(461.95 30.5) rotate(90)">7</text>
<text transform="translate(464.7 30.5) rotate(90)">8</text>
<text transform="translate(467.45 30.5) rotate(90)">9</text>
<text transform="translate(472.45 28.4) rotate(90)">1</text>
<text transform="translate(472.45 32.7) rotate(90)">0</text>
<text transform="translate(477.45 28.4) rotate(90)">1</text>
<text transform="translate(477.45 32.7) rotate(90)">1</text>
<text transform="translate(480.7 28.4) rotate(90)">1</text>
<text transform="translate(480.7 32.7) rotate(90)">2</text>
<text transform="translate(486.95 28.4) rotate(90)">1</text>
<text transform="translate(486.95 32.7) rotate(90)">2</text>
<text transform="translate(492.45 28.4) rotate(90)">1</text>
<text transform="translate(492.45 32.7) rotate(90)">3</text>
<text transform="translate(508.45 28.4) rotate(90)">1</text>
<text transform="translate(508.45 32.7) rotate(90)">4</text>
<text transform="translate(527.95 28.4) rotate(90)">1</text>
<text transform="translate(527.95 32.7) rotate(90)">5</text>
<text transform="translate(534.7 28.4) rotate(90)">1</text>
<text transform="translate(534.7 32.7) rotate(90)">6</text>
<text transform="translate(540.6 28.4) rotate(90)">1</text>
<text transform="translate(540.6 32.7) rotate(90)">7</text>
<text transform="translate(546.05 28.4) rotate(90)">1</text>
<text transform="translate(546.05 32.7) rotate(90)">8</text>
<text transform="translate(549.2 28.4) rotate(90)">1</text>
<text transform="translate(549.2 32.7) rotate(90)">9</text>
<text transform="translate(562.3 28.4) rotate(90)">2</text>
<text transform="translate(562.3 32.7) rotate(90)">0</text>
<text transform="translate(575.15 28.4) rotate(90)">2</text>
<text transform="translate(575.15 32.7) rotate(90)">1</text>
<text transform="translate(578 28.4) rotate(90)">2</text>
<text transform="translate(578 32.7) rotate(90)">2</text>
<text transform="translate(581.35 28.4) rotate(90)">2</text>
<text transform="translate(581.35 32.7) rotate(90)">3</text>
<text transform="translate(592.1 28.4) rotate(90)">2</text>
<text transform="translate(592.1 32.7) rotate(90)">4</text>
<text transform="translate(605.25 28.4) rotate(90)">2</text>
<text transform="translate(605.25 32.7) rotate(90)">5</text>
<text transform="translate(610.75 28.4) rotate(90)">2</text>
<text transform="translate(610.75 32.7) rotate(90)">6</text>
<text transform="translate(613.25 28.4) rotate(90)">2</text>
<text transform="translate(613.25 32.7) rotate(90)">7</text>
<text transform="translate(615.35 28.4) rotate(90)">2</text>
<text transform="translate(615.35 32.7) rotate(90)">8</text>
<text transform="translate(618.95 28.4) rotate(90)">2</text>
<text transform="translate(618.95 32.7) rotate(90)">9</text>
<text transform="translate(622.85 30.5) rotate(90)">1</text>
<text transform="translate(625.4 30.5) rotate(90)">2</text>
<text transform="translate(628.2 30.5) rotate(90)">3</text>
<text transform="translate(631.15 30.5) rotate(90)">4</text>
<text transform="translate(634.15 30.5) rotate(90)">5</text>
<text transform="translate(637.85 30.5) rotate(90)">6</text>
<text transform="translate(641.4 30.5) rotate(90)">7</text>
<text transform="translate(644.15 30.5) rotate(90)">8</text>
<text transform="translate(647 30.5) rotate(90)">9</text>
<text transform="translate(649.9 28.4) rotate(90)">1</text>
<text transform="translate(649.9 32.7) rotate(90)">0</text>
<text transform="translate(652.7 28.4) rotate(90)">1</text>
<text transform="translate(652.7 32.7) rotate(90)">1</text>
<text transform="translate(654.8 28.4) rotate(90)">1</text>
<text transform="translate(654.8 32.7) rotate(90)">2</text>
<text transform="translate(657.9 28.4) rotate(90)">1</text>
<text transform="translate(657.9 32.7) rotate(90)">3</text>
<text transform="translate(661.2 28.4) rotate(90)">1</text>
<text transform="translate(661.2 32.7) rotate(90)">4</text>
<text transform="translate(663.6 28.4) rotate(90)">1</text>
<text transform="translate(663.6 32.7) rotate(90)">5</text>
<text transform="translate(667.95 28.4) rotate(90)">1</text>
<text transform="translate(667.95 32.7) rotate(90)">6</text>
<text transform="translate(672.15 28.4) rotate(90)">1</text>
<text transform="translate(672.15 32.7) rotate(90)">7</text>
<text transform="translate(674.1 28.4) rotate(90)">1</text>
<text transform="translate(674.1 32.7) rotate(90)">8</text>
<text transform="translate(676 28.4) rotate(90)">1</text>
<text transform="translate(676 32.7) rotate(90)">9</text>
<text transform="translate(680.9 28.4) rotate(90)">2</text>
<text transform="translate(680.9 32.7) rotate(90)">0</text>
<text transform="translate(686.55 30.5) rotate(90)">1</text>
<text transform="translate(689.5 30.5) rotate(90)">2</text>
<text transform="translate(696.6 30.5) rotate(90)">3</text>
<text transform="translate(703.4 30.5) rotate(90)">4</text>
<text transform="translate(705.9 30.5) rotate(90)">5</text>
<text transform="translate(708.55 30.5) rotate(90)">6</text>
<text transform="translate(710.25 30.5) rotate(90)">7</text>
<text transform="translate(714.45 30.5) rotate(90)">8</text>
<text transform="translate(718.5 30.5) rotate(90)">9</text>
<text transform="translate(719.9 28.4) rotate(90)">1</text>
<text transform="translate(719.9 32.7) rotate(90)">0</text>
<text transform="translate(722.15 28.4) rotate(90)">1</text>
<text transform="translate(722.15 32.7) rotate(90)">1</text>
<text transform="translate(724.7 28.4) rotate(90)">1</text>
<text transform="translate(724.7 32.7) rotate(90)">2</text>
<text transform="translate(727.2 28.4) rotate(90)">1</text>
<text transform="translate(727.2 32.7) rotate(90)">3</text>
<text transform="translate(731.2 28.4) rotate(90)">1</text>
<text transform="translate(731.2 32.7) rotate(90)">4</text>
<text transform="translate(734.7 28.4) rotate(90)">1</text>
<text transform="translate(734.7 32.7) rotate(90)">5</text>
<text transform="translate(736.55 28.4) rotate(90)">1</text>
<text transform="translate(736.55 32.7) rotate(90)">6</text>
<text transform="translate(738.05 28.4) rotate(90)">1</text>
<text transform="translate(738.05 32.7) rotate(90)">7</text>
<text transform="translate(739.55 28.4) rotate(90)">1</text>
<text transform="translate(739.55 32.7) rotate(90)">8</text>
<text transform="translate(741.65 28.4) rotate(90)">1</text>
<text transform="translate(741.65 32.7) rotate(90)">9</text>
<text transform="translate(744.15 28.4) rotate(90)">2</text>
<text transform="translate(744.15 32.7) rotate(90)">0</text>
<text transform="translate(748.35 28.4) rotate(90)">2</text>
<text transform="translate(748.35 32.7) rotate(90)">1</text>
<text transform="translate(753 28.4) rotate(90)">2</text>
<text transform="translate(753 32.7) rotate(90)">2</text>
<text transform="translate(757.2 28.4) rotate(90)">2</text>
<text transform="translate(757.2 32.7) rotate(90)">3</text>
<text transform="translate(765.95 28.4) rotate(90)">2</text>
<text transform="translate(765.95 32.7) rotate(90)">4</text>
<text transform="translate(772.9 28.4) rotate(90)">2</text>
<text transform="translate(772.9 32.7) rotate(90)">5</text>
<text transform="translate(774.2 28.4) rotate(90)">2</text>
<text transform="translate(774.2 32.7) rotate(90)">6</text>
<text transform="translate(776 28.4) rotate(90)">2</text>
<text transform="translate(776 32.7) rotate(90)">7</text>
<text transform="translate(778.5 28.4) rotate(90)">2</text>
<text transform="translate(778.5 32.7) rotate(90)">8</text>
<text transform="translate(781.3 28.4) rotate(90)">2</text>
<text transform="translate(781.3 32.7) rotate(90)">9</text>
<text transform="translate(786.75 28.4) rotate(90)">3</text>
<text transform="translate(786.75 32.7) rotate(90)">0</text>
<text transform="translate(791.95 28.4) rotate(90)">3</text>
<text transform="translate(791.95 32.7) rotate(90)">1</text>
<text transform="translate(794.05 28.4) rotate(90)">3</text>
<text transform="translate(794.05 32.7) rotate(90)">2</text>
<text transform="translate(796.05 28.4) rotate(90)">3</text>
<text transform="translate(796.05 32.7) rotate(90)">3</text>
<text transform="translate(797.7 28.4) rotate(90)">3</text>
<text transform="translate(797.7 32.7) rotate(90)">4</text>
</g>
<text x="149.3" y="10.7" font-size="9.9" text-anchor="middle" fill="#1a2354" font-weight="bold" stroke="#1a2354" stroke-width="0.16">Russian</text>
<text x="519.2" y="12.3" font-size="10.3" text-anchor="middle" fill="#ad1c2b" font-weight="bold" stroke="#ad1c2b" stroke-width="0.16">Yakut</text>
<path d="M107.3 19.6V13.4Q107.3 12.4 108.3 12.4H182Q183 12.4 183 13.4V19.6" fill="none" stroke="#3a3a3a" stroke-width="0.9"/>
<path d="M496.5 21.3V14.4Q496.5 13.4 497.5 13.4H538.5Q539.5 13.4 539.5 14.4V21.3" fill="none" stroke="#3a3a3a" stroke-width="0.9"/>
<text x="110.2" y="235" font-size="8.3" text-anchor="middle" fill="#1a1a1a" font-weight="bold" stroke="#1a1a1a" stroke-width="0.16">Europe</text>
<text x="287" y="232" font-size="8.3" text-anchor="middle" fill="#1a1a1a" font-weight="bold" stroke="#1a1a1a" stroke-width="0.16">West</text>
<text x="287" y="242.5" font-size="8.3" text-anchor="middle" fill="#1a1a1a" font-weight="bold" stroke="#1a1a1a" stroke-width="0.16">Asia</text>
<text x="341.7" y="234" font-size="8.3" text-anchor="middle" fill="#1a1a1a" font-weight="bold" stroke="#1a1a1a" stroke-width="0.16">Caucasus</text>
<text x="395" y="231" font-size="8.3" text-anchor="middle" fill="#1a1a1a" font-weight="bold" stroke="#1a1a1a" stroke-width="0.16">Central</text>
<text x="395" y="241.5" font-size="8.3" text-anchor="middle" fill="#1a1a1a" font-weight="bold" stroke="#1a1a1a" stroke-width="0.16">Asia</text>
<text x="506" y="235.5" font-size="8.3" text-anchor="middle" fill="#1a1a1a" font-weight="bold" stroke="#1a1a1a" stroke-width="0.16">Siberia</text>
<text x="655.6" y="233.7" font-size="8.3" text-anchor="middle" fill="#1a1a1a" font-weight="bold" stroke="#1a1a1a" stroke-width="0.16">East Asia</text>
<text x="745.6" y="234" font-size="8.3" text-anchor="middle" fill="#1a1a1a" font-weight="bold" stroke="#1a1a1a" stroke-width="0.16">South Asia</text>
<text x="47.5" y="256.05" font-size="6.3" text-anchor="end" fill="#1c1c1c" font-weight="normal" stroke="#1c1c1c" stroke-width="0.16">1</text>
<text x="48.8" y="256.05" font-size="6.3" text-anchor="start" fill="#1c1c1c" font-weight="normal" stroke="#1c1c1c" stroke-width="0.16">Sardinian</text>
<text x="47.5" y="264.13" font-size="6.3" text-anchor="end" fill="#1c1c1c" font-weight="normal" stroke="#1c1c1c" stroke-width="0.16">2</text>
<text x="48.8" y="264.13" font-size="6.3" text-anchor="start" fill="#1c1c1c" font-weight="normal" stroke="#1c1c1c" stroke-width="0.16">Albanian</text>
<text x="47.5" y="272.21" font-size="6.3" text-anchor="end" fill="#1c1c1c" font-weight="normal" stroke="#1c1c1c" stroke-width="0.16">3</text>
<text x="48.8" y="272.21" font-size="6.3" text-anchor="start" fill="#1c1c1c" font-weight="normal" stroke="#1c1c1c" stroke-width="0.16">Greek</text>
<text x="47.5" y="280.29" font-size="6.3" text-anchor="end" fill="#1c1c1c" font-weight="normal" stroke="#1c1c1c" stroke-width="0.16">4</text>
<text x="48.8" y="280.29" font-size="6.3" text-anchor="start" fill="#1c1c1c" font-weight="normal" stroke="#1c1c1c" stroke-width="0.16">Crete</text>
<text x="47.5" y="288.37" font-size="6.3" text-anchor="end" fill="#1c1c1c" font-weight="normal" stroke="#1c1c1c" stroke-width="0.16">5</text>
<text x="48.8" y="288.37" font-size="6.3" text-anchor="start" fill="#1c1c1c" font-weight="normal" stroke="#1c1c1c" stroke-width="0.16">Basque</text>
<text x="47.5" y="296.45" font-size="6.3" text-anchor="end" fill="#1c1c1c" font-weight="normal" stroke="#1c1c1c" stroke-width="0.16">6</text>
<text x="48.8" y="296.45" font-size="6.3" text-anchor="start" fill="#1c1c1c" font-weight="normal" stroke="#1c1c1c" stroke-width="0.16">French</text>
<text x="47.5" y="304.53" font-size="6.3" text-anchor="end" fill="#1c1c1c" font-weight="normal" stroke="#1c1c1c" stroke-width="0.16">7</text>
<text x="48.8" y="304.53" font-size="6.3" text-anchor="start" fill="#1c1c1c" font-weight="normal" stroke="#1c1c1c" stroke-width="0.16">Bergamo</text>
<text x="47.5" y="312.61" font-size="6.3" text-anchor="end" fill="#1c1c1c" font-weight="normal" stroke="#1c1c1c" stroke-width="0.16">8</text>
<text x="48.8" y="312.61" font-size="6.3" text-anchor="start" fill="#1c1c1c" font-weight="normal" stroke="#1c1c1c" stroke-width="0.16">Tuscan</text>
<text x="47.5" y="320.69" font-size="6.3" text-anchor="end" fill="#1c1c1c" font-weight="normal" stroke="#1c1c1c" stroke-width="0.16">9</text>
<text x="48.8" y="320.69" font-size="6.3" text-anchor="start" fill="#1c1c1c" font-weight="normal" stroke="#1c1c1c" stroke-width="0.16">Spanish</text>
<text x="47.5" y="328.77" font-size="6.3" text-anchor="end" fill="#1c1c1c" font-weight="normal" stroke="#1c1c1c" stroke-width="0.16">10</text>
<text x="48.8" y="328.77" font-size="6.3" text-anchor="start" fill="#1c1c1c" font-weight="normal" stroke="#1c1c1c" stroke-width="0.16">Croat</text>
<text x="47.5" y="336.85" font-size="6.3" text-anchor="end" fill="#1c1c1c" font-weight="normal" stroke="#1c1c1c" stroke-width="0.16">11</text>
<text x="48.8" y="336.85" font-size="6.3" text-anchor="start" fill="#1c1c1c" font-weight="normal" stroke="#1c1c1c" stroke-width="0.16">Czech</text>
<text x="47.5" y="344.93" font-size="6.3" text-anchor="end" fill="#1c1c1c" font-weight="normal" stroke="#1c1c1c" stroke-width="0.16">12</text>
<text x="48.8" y="344.93" font-size="6.3" text-anchor="start" fill="#1c1c1c" font-weight="normal" stroke="#1c1c1c" stroke-width="0.16">Moldavian</text>
<text x="47.5" y="353.01" font-size="6.3" text-anchor="end" fill="#1c1c1c" font-weight="normal" stroke="#1c1c1c" stroke-width="0.16">13</text>
<text x="48.8" y="353.01" font-size="6.3" text-anchor="start" fill="#1c1c1c" font-weight="normal" stroke="#1c1c1c" stroke-width="0.16">Bulgarian</text>
<text x="47.5" y="361.09" font-size="6.3" text-anchor="end" fill="#1c1c1c" font-weight="normal" stroke="#1c1c1c" stroke-width="0.16">14</text>
<text x="48.8" y="361.09" font-size="6.3" text-anchor="start" fill="#1c1c1c" font-weight="normal" stroke="#1c1c1c" stroke-width="0.16">Orcadian</text>
<text x="47.5" y="369.17" font-size="6.3" text-anchor="end" fill="#1c1c1c" font-weight="normal" stroke="#1c1c1c" stroke-width="0.16">15</text>
<text x="48.8" y="369.17" font-size="6.3" text-anchor="start" fill="#1c1c1c" font-weight="normal" stroke="#1c1c1c" stroke-width="0.16">Icelandic</text>
<text x="47.5" y="377.25" font-size="6.3" text-anchor="end" fill="#1c1c1c" font-weight="normal" stroke="#1c1c1c" stroke-width="0.16">16</text>
<text x="48.8" y="377.25" font-size="6.3" text-anchor="start" fill="#1c1c1c" font-weight="normal" stroke="#1c1c1c" stroke-width="0.16">English</text>
<text x="101.4" y="256.05" font-size="6.3" text-anchor="end" fill="#1c1c1c" font-weight="normal" stroke="#1c1c1c" stroke-width="0.16">17</text>
<text x="102.7" y="256.05" font-size="6.3" text-anchor="start" fill="#1c1c1c" font-weight="normal" stroke="#1c1c1c" stroke-width="0.16">German</text>
<text x="101.4" y="264.13" font-size="6.3" text-anchor="end" fill="#1c1c1c" font-weight="normal" stroke="#1c1c1c" stroke-width="0.16">18</text>
<text x="102.7" y="264.13" font-size="6.3" text-anchor="start" fill="#1c1c1c" font-weight="normal" stroke="#1c1c1c" stroke-width="0.16">Norwegian</text>
<text x="101.4" y="272.21" font-size="6.3" text-anchor="end" fill="#1c1c1c" font-weight="normal" stroke="#1c1c1c" stroke-width="0.16">19</text>
<text x="102.7" y="272.21" font-size="6.3" text-anchor="start" fill="#1c1c1c" font-weight="normal" stroke="#1c1c1c" stroke-width="0.16">Swedes</text>
<text x="101.4" y="280.29" font-size="6.3" text-anchor="end" fill="#1c1c1c" font-weight="normal" stroke="#1c1c1c" stroke-width="0.16">20</text>
<text x="102.7" y="280.29" font-size="6.3" text-anchor="start" fill="#1c1c1c" font-weight="normal" stroke="#1c1c1c" stroke-width="0.16">Latvian</text>
<text x="101.4" y="288.37" font-size="6.3" text-anchor="end" fill="#1c1c1c" font-weight="normal" stroke="#1c1c1c" stroke-width="0.16">21</text>
<text x="102.7" y="288.37" font-size="6.3" text-anchor="start" fill="#1c1c1c" font-weight="normal" stroke="#1c1c1c" stroke-width="0.16">Lithuanian</text>
<text x="101.4" y="296.45" font-size="6.3" text-anchor="end" fill="#1c1c1c" font-weight="normal" stroke="#1c1c1c" stroke-width="0.16">22</text>
<text x="102.7" y="296.45" font-size="6.3" text-anchor="start" fill="#1c1c1c" font-weight="normal" stroke="#1c1c1c" stroke-width="0.16">Poles</text>
<text x="101.4" y="304.53" font-size="6.3" text-anchor="end" fill="#1c1c1c" font-weight="normal" stroke="#1c1c1c" stroke-width="0.16">23</text>
<text x="102.7" y="304.53" font-size="6.3" text-anchor="start" fill="#1c1c1c" font-weight="normal" stroke="#1c1c1c" stroke-width="0.16">Ukrainian</text>
<text x="101.4" y="312.61" font-size="6.3" text-anchor="end" fill="#1c1c1c" font-weight="normal" stroke="#1c1c1c" stroke-width="0.16">24</text>
<text x="102.7" y="312.61" font-size="6.3" text-anchor="start" fill="#1c1c1c" font-weight="normal" stroke="#1c1c1c" stroke-width="0.16">Belarusian</text>
<text x="101.4" y="320.69" font-size="6.3" text-anchor="end" fill="#1a2354" font-weight="bold" stroke="#1a2354" stroke-width="0.16">25</text>
<text x="102.7" y="320.69" font-size="6.3" text-anchor="start" fill="#1a2354" font-weight="bold" stroke="#1a2354" stroke-width="0.16">Russians-West</text>
<text x="101.4" y="328.77" font-size="6.3" text-anchor="end" fill="#1a2354" font-weight="bold" stroke="#1a2354" stroke-width="0.16">26</text>
<text x="102.7" y="328.77" font-size="6.3" text-anchor="start" fill="#1a2354" font-weight="bold" stroke="#1a2354" stroke-width="0.16">Russian-Mixed</text>
<text x="101.4" y="336.85" font-size="6.3" text-anchor="end" fill="#1a2354" font-weight="bold" stroke="#1a2354" stroke-width="0.16">27</text>
<text x="102.7" y="336.85" font-size="6.3" text-anchor="start" fill="#1a2354" font-weight="bold" stroke="#1a2354" stroke-width="0.16">Russians-Central</text>
<text x="101.4" y="344.93" font-size="6.3" text-anchor="end" fill="#1a2354" font-weight="bold" stroke="#1a2354" stroke-width="0.16">28</text>
<text x="102.7" y="344.93" font-size="6.3" text-anchor="start" fill="#1a2354" font-weight="bold" stroke="#1a2354" stroke-width="0.16">Russians-North</text>
<text x="101.4" y="353.01" font-size="6.3" text-anchor="end" fill="#1a2354" font-weight="bold" stroke="#1a2354" stroke-width="0.16">29</text>
<text x="102.7" y="353.01" font-size="6.3" text-anchor="start" fill="#1a2354" font-weight="bold" stroke="#1a2354" stroke-width="0.16">Russian-Cossacks</text>
<text x="101.4" y="361.09" font-size="6.3" text-anchor="end" fill="#1a2354" font-weight="bold" stroke="#1a2354" stroke-width="0.16">30</text>
<text x="102.7" y="361.09" font-size="6.3" text-anchor="start" fill="#1a2354" font-weight="bold" stroke="#1a2354" stroke-width="0.16">Cossacks-Kuban</text>
<text x="101.4" y="369.17" font-size="6.3" text-anchor="end" fill="#1a2354" font-weight="normal" stroke="#1a2354" stroke-width="0.16">31</text>
<text x="102.7" y="369.17" font-size="6.3" text-anchor="start" fill="#1a2354" font-weight="bold" stroke="#1a2354" stroke-width="0.16" text-decoration="underline">Novgorod</text>
<text x="101.4" y="377.25" font-size="6.3" text-anchor="end" fill="#1a2354" font-weight="normal" stroke="#1a2354" stroke-width="0.16">32</text>
<text x="102.7" y="377.25" font-size="6.3" text-anchor="start" fill="#1a2354" font-weight="bold" stroke="#1a2354" stroke-width="0.16" text-decoration="underline">Pskov</text>
<text x="165.3" y="256.05" font-size="6.3" text-anchor="end" fill="#1c1c1c" font-weight="normal" stroke="#1c1c1c" stroke-width="0.16">33</text>
<text x="166" y="256.05" font-size="6.3" text-anchor="start" fill="#1c1c1c" font-weight="normal" stroke="#1c1c1c" stroke-width="0.16">Hungarian</text>
<text x="165.3" y="264.13" font-size="6.3" text-anchor="end" fill="#1c1c1c" font-weight="normal" stroke="#1c1c1c" stroke-width="0.16">34</text>
<text x="166" y="264.13" font-size="6.3" text-anchor="start" fill="#1c1c1c" font-weight="normal" stroke="#1c1c1c" stroke-width="0.16">Estonian</text>
<text x="165.3" y="272.21" font-size="6.3" text-anchor="end" fill="#1c1c1c" font-weight="normal" stroke="#1c1c1c" stroke-width="0.16">35</text>
<text x="166" y="272.21" font-size="6.3" text-anchor="start" fill="#1c1c1c" font-weight="normal" stroke="#1c1c1c" stroke-width="0.16">Finnish</text>
<text x="165.3" y="280.29" font-size="6.3" text-anchor="end" fill="#1c1c1c" font-weight="normal" stroke="#1c1c1c" stroke-width="0.16">36</text>
<text x="166" y="280.29" font-size="6.3" text-anchor="start" fill="#1c1c1c" font-weight="normal" stroke="#1c1c1c" stroke-width="0.16">Saami</text>
<text x="165.3" y="288.37" font-size="6.3" text-anchor="end" fill="#1c1c1c" font-weight="normal" stroke="#1c1c1c" stroke-width="0.16">37</text>
<text x="166" y="288.37" font-size="6.3" text-anchor="start" fill="#1c1c1c" font-weight="normal" stroke="#1c1c1c" stroke-width="0.16">Ingrian</text>
<text x="165.3" y="296.45" font-size="6.3" text-anchor="end" fill="#1c1c1c" font-weight="normal" stroke="#1c1c1c" stroke-width="0.16">38</text>
<text x="166" y="296.45" font-size="6.3" text-anchor="start" fill="#1c1c1c" font-weight="normal" stroke="#1c1c1c" stroke-width="0.16">Karelian</text>
<text x="165.3" y="304.53" font-size="6.3" text-anchor="end" fill="#1c1c1c" font-weight="normal" stroke="#1c1c1c" stroke-width="0.16">39</text>
<text x="166" y="304.53" font-size="6.3" text-anchor="start" fill="#1c1c1c" font-weight="normal" stroke="#1c1c1c" stroke-width="0.16">Komis</text>
<text x="165.3" y="312.61" font-size="6.3" text-anchor="end" fill="#1c1c1c" font-weight="normal" stroke="#1c1c1c" stroke-width="0.16">40</text>
<text x="166" y="312.61" font-size="6.3" text-anchor="start" fill="#1c1c1c" font-weight="normal" stroke="#1c1c1c" stroke-width="0.16">Maris</text>
<text x="165.3" y="320.69" font-size="6.3" text-anchor="end" fill="#1c1c1c" font-weight="normal" stroke="#1c1c1c" stroke-width="0.16">41</text>
<text x="166" y="320.69" font-size="6.3" text-anchor="start" fill="#1c1c1c" font-weight="normal" stroke="#1c1c1c" stroke-width="0.16">Mordvin</text>
<text x="165.3" y="328.77" font-size="6.3" text-anchor="end" fill="#1c1c1c" font-weight="normal" stroke="#1c1c1c" stroke-width="0.16">42</text>
<text x="166" y="328.77" font-size="6.3" text-anchor="start" fill="#1c1c1c" font-weight="normal" stroke="#1c1c1c" stroke-width="0.16">Vepsas</text>
<text x="165.3" y="336.85" font-size="6.3" text-anchor="end" fill="#1c1c1c" font-weight="normal" stroke="#1c1c1c" stroke-width="0.16">43</text>
<text x="166" y="336.85" font-size="6.3" text-anchor="start" fill="#1c1c1c" font-weight="normal" stroke="#1c1c1c" stroke-width="0.16">Udmurds</text>
<text x="165.3" y="344.93" font-size="6.3" text-anchor="end" fill="#1c1c1c" font-weight="normal" stroke="#1c1c1c" stroke-width="0.16">44</text>
<text x="166" y="344.93" font-size="6.3" text-anchor="start" fill="#1c1c1c" font-weight="normal" stroke="#1c1c1c" stroke-width="0.16">Chuvashes</text>
<text x="165.3" y="353.01" font-size="6.3" text-anchor="end" fill="#1c1c1c" font-weight="normal" stroke="#1c1c1c" stroke-width="0.16">45</text>
<text x="166" y="353.01" font-size="6.3" text-anchor="start" fill="#1c1c1c" font-weight="normal" stroke="#1c1c1c" stroke-width="0.16">Tatars</text>
<text x="165.3" y="361.09" font-size="6.3" text-anchor="end" fill="#1c1c1c" font-weight="normal" stroke="#1c1c1c" stroke-width="0.16">46</text>
<text x="166" y="361.09" font-size="6.3" text-anchor="start" fill="#1c1c1c" font-weight="normal" stroke="#1c1c1c" stroke-width="0.16">Kryashen-Tatars</text>
<text x="165.3" y="369.17" font-size="6.3" text-anchor="end" fill="#1c1c1c" font-weight="normal" stroke="#1c1c1c" stroke-width="0.16">47</text>
<text x="166" y="369.17" font-size="6.3" text-anchor="start" fill="#1c1c1c" font-weight="normal" stroke="#1c1c1c" stroke-width="0.16">Mishar-Tatars</text>
<text x="165.3" y="377.25" font-size="6.3" text-anchor="end" fill="#1c1c1c" font-weight="normal" stroke="#1c1c1c" stroke-width="0.16">48</text>
<text x="166" y="377.25" font-size="6.3" text-anchor="start" fill="#1c1c1c" font-weight="normal" stroke="#1c1c1c" stroke-width="0.16">Bashkirs</text>
<text x="165.3" y="385.33" font-size="6.3" text-anchor="end" fill="#1c1c1c" font-weight="normal" stroke="#1c1c1c" stroke-width="0.16">49</text>
<text x="166" y="385.33" font-size="6.3" text-anchor="start" fill="#1c1c1c" font-weight="normal" stroke="#1c1c1c" stroke-width="0.16">Roma</text>
<path d="M94 318.3H88V374.8H94" fill="none" stroke="#333" stroke-width="0.6"/>
<text x="276.3" y="255.5" font-size="6.3" text-anchor="end" fill="#1c1c1c" font-weight="normal" stroke="#1c1c1c" stroke-width="0.16">1</text>
<text x="277" y="255.5" font-size="6.3" text-anchor="start" fill="#1c1c1c" font-weight="normal" stroke="#1c1c1c" stroke-width="0.16">Iranian</text>
<text x="276.3" y="263.54" font-size="6.3" text-anchor="end" fill="#1c1c1c" font-weight="normal" stroke="#1c1c1c" stroke-width="0.16">2</text>
<text x="277" y="263.54" font-size="6.3" text-anchor="start" fill="#1c1c1c" font-weight="normal" stroke="#1c1c1c" stroke-width="0.16">Assyrian</text>
<text x="276.3" y="271.58" font-size="6.3" text-anchor="end" fill="#1c1c1c" font-weight="normal" stroke="#1c1c1c" stroke-width="0.16">3</text>
<text x="277" y="271.58" font-size="6.3" text-anchor="start" fill="#1c1c1c" font-weight="normal" stroke="#1c1c1c" stroke-width="0.16">Palestinian</text>
<text x="276.3" y="279.62" font-size="6.3" text-anchor="end" fill="#1c1c1c" font-weight="normal" stroke="#1c1c1c" stroke-width="0.16">4</text>
<text x="277" y="279.62" font-size="6.3" text-anchor="start" fill="#1c1c1c" font-weight="normal" stroke="#1c1c1c" stroke-width="0.16">Yemenite-Jew</text>
<text x="276.3" y="287.66" font-size="6.3" text-anchor="end" fill="#1c1c1c" font-weight="normal" stroke="#1c1c1c" stroke-width="0.16">5</text>
<text x="277" y="287.66" font-size="6.3" text-anchor="start" fill="#1c1c1c" font-weight="normal" stroke="#1c1c1c" stroke-width="0.16">Iraqi-Jew</text>
<text x="276.3" y="295.7" font-size="6.3" text-anchor="end" fill="#1c1c1c" font-weight="normal" stroke="#1c1c1c" stroke-width="0.16">6</text>
<text x="277" y="295.7" font-size="6.3" text-anchor="start" fill="#1c1c1c" font-weight="normal" stroke="#1c1c1c" stroke-width="0.16">Samaritan</text>
<text x="276.3" y="303.74" font-size="6.3" text-anchor="end" fill="#1c1c1c" font-weight="normal" stroke="#1c1c1c" stroke-width="0.16">7</text>
<text x="277" y="303.74" font-size="6.3" text-anchor="start" fill="#1c1c1c" font-weight="normal" stroke="#1c1c1c" stroke-width="0.16">Jordanian</text>
<text x="276.3" y="311.78" font-size="6.3" text-anchor="end" fill="#1c1c1c" font-weight="normal" stroke="#1c1c1c" stroke-width="0.16">8</text>
<text x="277" y="311.78" font-size="6.3" text-anchor="start" fill="#1c1c1c" font-weight="normal" stroke="#1c1c1c" stroke-width="0.16">Druze</text>
<text x="276.3" y="319.82" font-size="6.3" text-anchor="end" fill="#1c1c1c" font-weight="normal" stroke="#1c1c1c" stroke-width="0.16">9</text>
<text x="277" y="319.82" font-size="6.3" text-anchor="start" fill="#1c1c1c" font-weight="normal" stroke="#1c1c1c" stroke-width="0.16">Arabs-Israel-1</text>
<text x="276.3" y="327.86" font-size="6.3" text-anchor="end" fill="#1c1c1c" font-weight="normal" stroke="#1c1c1c" stroke-width="0.16">10</text>
<text x="277" y="327.86" font-size="6.3" text-anchor="start" fill="#1c1c1c" font-weight="normal" stroke="#1c1c1c" stroke-width="0.16">Arabs-Israel-2</text>
<text x="276.3" y="335.9" font-size="6.3" text-anchor="end" fill="#1c1c1c" font-weight="normal" stroke="#1c1c1c" stroke-width="0.16">11</text>
<text x="277" y="335.9" font-size="6.3" text-anchor="start" fill="#1c1c1c" font-weight="normal" stroke="#1c1c1c" stroke-width="0.16">Saudi-Arabian</text>
<text x="276.3" y="343.94" font-size="6.3" text-anchor="end" fill="#1c1c1c" font-weight="normal" stroke="#1c1c1c" stroke-width="0.16">12</text>
<text x="277" y="343.94" font-size="6.3" text-anchor="start" fill="#1c1c1c" font-weight="normal" stroke="#1c1c1c" stroke-width="0.16">Lebanese</text>
<text x="276.3" y="351.98" font-size="6.3" text-anchor="end" fill="#1c1c1c" font-weight="normal" stroke="#1c1c1c" stroke-width="0.16">13</text>
<text x="277" y="351.98" font-size="6.3" text-anchor="start" fill="#1c1c1c" font-weight="normal" stroke="#1c1c1c" stroke-width="0.16">Turkish</text>
<text x="325.7" y="256" font-size="6.3" text-anchor="end" fill="#1c1c1c" font-weight="normal" stroke="#1c1c1c" stroke-width="0.16">1</text>
<text x="326.4" y="256" font-size="6.3" text-anchor="start" fill="#1c1c1c" font-weight="normal" stroke="#1c1c1c" stroke-width="0.16">Armenian</text>
<text x="325.7" y="264.08" font-size="6.3" text-anchor="end" fill="#1c1c1c" font-weight="normal" stroke="#1c1c1c" stroke-width="0.16">2</text>
<text x="326.4" y="264.08" font-size="6.3" text-anchor="start" fill="#1c1c1c" font-weight="normal" stroke="#1c1c1c" stroke-width="0.16">Georgian</text>
<text x="325.7" y="272.16" font-size="6.3" text-anchor="end" fill="#1c1c1c" font-weight="normal" stroke="#1c1c1c" stroke-width="0.16">3</text>
<text x="326.4" y="272.16" font-size="6.3" text-anchor="start" fill="#1c1c1c" font-weight="normal" stroke="#1c1c1c" stroke-width="0.16">Abkhasian</text>
<text x="325.7" y="280.24" font-size="6.3" text-anchor="end" fill="#1c1c1c" font-weight="normal" stroke="#1c1c1c" stroke-width="0.16">4</text>
<text x="326.4" y="280.24" font-size="6.3" text-anchor="start" fill="#1c1c1c" font-weight="normal" stroke="#1c1c1c" stroke-width="0.16">Abkhazian</text>
<text x="325.7" y="288.32" font-size="6.3" text-anchor="end" fill="#1c1c1c" font-weight="normal" stroke="#1c1c1c" stroke-width="0.16">5</text>
<text x="326.4" y="288.32" font-size="6.3" text-anchor="start" fill="#1c1c1c" font-weight="normal" stroke="#1c1c1c" stroke-width="0.16">Azerbaijanis</text>
<text x="325.7" y="296.4" font-size="6.3" text-anchor="end" fill="#1c1c1c" font-weight="normal" stroke="#1c1c1c" stroke-width="0.16">6</text>
<text x="326.4" y="296.4" font-size="6.3" text-anchor="start" fill="#1c1c1c" font-weight="normal" stroke="#1c1c1c" stroke-width="0.16">Adygei</text>
<text x="325.7" y="304.48" font-size="6.3" text-anchor="end" fill="#1c1c1c" font-weight="normal" stroke="#1c1c1c" stroke-width="0.16">7</text>
<text x="326.4" y="304.48" font-size="6.3" text-anchor="start" fill="#1c1c1c" font-weight="normal" stroke="#1c1c1c" stroke-width="0.16">Avars</text>
<text x="325.7" y="312.56" font-size="6.3" text-anchor="end" fill="#1c1c1c" font-weight="normal" stroke="#1c1c1c" stroke-width="0.16">8</text>
<text x="326.4" y="312.56" font-size="6.3" text-anchor="start" fill="#1c1c1c" font-weight="normal" stroke="#1c1c1c" stroke-width="0.16">Balkars</text>
<text x="325.7" y="320.64" font-size="6.3" text-anchor="end" fill="#1c1c1c" font-weight="normal" stroke="#1c1c1c" stroke-width="0.16">9</text>
<text x="326.4" y="320.64" font-size="6.3" text-anchor="start" fill="#1c1c1c" font-weight="normal" stroke="#1c1c1c" stroke-width="0.16">Chechen</text>
<text x="325.7" y="328.72" font-size="6.3" text-anchor="end" fill="#1c1c1c" font-weight="normal" stroke="#1c1c1c" stroke-width="0.16">10</text>
<text x="326.4" y="328.72" font-size="6.3" text-anchor="start" fill="#1c1c1c" font-weight="normal" stroke="#1c1c1c" stroke-width="0.16">Circassian</text>
<text x="325.7" y="336.8" font-size="6.3" text-anchor="end" fill="#1c1c1c" font-weight="normal" stroke="#1c1c1c" stroke-width="0.16">11</text>
<text x="326.4" y="336.8" font-size="6.3" text-anchor="start" fill="#1c1c1c" font-weight="normal" stroke="#1c1c1c" stroke-width="0.16">Kabardin</text>
<text x="325.7" y="344.88" font-size="6.3" text-anchor="end" fill="#1c1c1c" font-weight="normal" stroke="#1c1c1c" stroke-width="0.16">12</text>
<text x="326.4" y="344.88" font-size="6.3" text-anchor="start" fill="#1c1c1c" font-weight="normal" stroke="#1c1c1c" stroke-width="0.16">Kumyks</text>
<text x="325.7" y="352.96" font-size="6.3" text-anchor="end" fill="#1c1c1c" font-weight="normal" stroke="#1c1c1c" stroke-width="0.16">13</text>
<text x="326.4" y="352.96" font-size="6.3" text-anchor="start" fill="#1c1c1c" font-weight="normal" stroke="#1c1c1c" stroke-width="0.16">Lezgin</text>
<text x="325.7" y="361.04" font-size="6.3" text-anchor="end" fill="#1c1c1c" font-weight="normal" stroke="#1c1c1c" stroke-width="0.16">14</text>
<text x="326.4" y="361.04" font-size="6.3" text-anchor="start" fill="#1c1c1c" font-weight="normal" stroke="#1c1c1c" stroke-width="0.16">Ossetian</text>
<text x="325.7" y="369.12" font-size="6.3" text-anchor="end" fill="#1c1c1c" font-weight="normal" stroke="#1c1c1c" stroke-width="0.16">15</text>
<text x="326.4" y="369.12" font-size="6.3" text-anchor="start" fill="#1c1c1c" font-weight="normal" stroke="#1c1c1c" stroke-width="0.16">Tabasaran</text>
<text x="382.8" y="252.75" font-size="6.3" text-anchor="end" fill="#1c1c1c" font-weight="normal" stroke="#1c1c1c" stroke-width="0.16">1</text>
<text x="383.3" y="252.75" font-size="6.3" text-anchor="start" fill="#1c1c1c" font-weight="normal" stroke="#1c1c1c" stroke-width="0.16">Rushan-</text>
<text x="383.3" y="259.75" font-size="6.3" text-anchor="start" fill="#1c1c1c" font-weight="normal" stroke="#1c1c1c" stroke-width="0.16">Vanch</text>
<text x="382.8" y="268.75" font-size="6.3" text-anchor="end" fill="#1c1c1c" font-weight="normal" stroke="#1c1c1c" stroke-width="0.16">2</text>
<text x="383.3" y="268.75" font-size="6.3" text-anchor="start" fill="#1c1c1c" font-weight="normal" stroke="#1c1c1c" stroke-width="0.16">Shugnan</text>
<text x="382.8" y="293.25" font-size="6.3" text-anchor="end" fill="#1c1c1c" font-weight="normal" stroke="#1c1c1c" stroke-width="0.16">5</text>
<text x="383.3" y="293.25" font-size="6.3" text-anchor="start" fill="#1c1c1c" font-weight="normal" stroke="#1c1c1c" stroke-width="0.16">Hazara</text>
<text x="382.8" y="301.25" font-size="6.3" text-anchor="end" fill="#1c1c1c" font-weight="normal" stroke="#1c1c1c" stroke-width="0.16">6</text>
<text x="383.3" y="301.25" font-size="6.3" text-anchor="start" fill="#1c1c1c" font-weight="normal" stroke="#1c1c1c" stroke-width="0.16">Ishkasim</text>
<text x="382.8" y="309.25" font-size="6.3" text-anchor="end" fill="#1c1c1c" font-weight="normal" stroke="#1c1c1c" stroke-width="0.16">7</text>
<text x="383.3" y="309.25" font-size="6.3" text-anchor="start" fill="#1c1c1c" font-weight="normal" stroke="#1c1c1c" stroke-width="0.16">Yaghnobi</text>
<text x="382.8" y="317.25" font-size="6.3" text-anchor="end" fill="#1c1c1c" font-weight="normal" stroke="#1c1c1c" stroke-width="0.16">8</text>
<text x="383.3" y="317.25" font-size="6.3" text-anchor="start" fill="#1c1c1c" font-weight="normal" stroke="#1c1c1c" stroke-width="0.16">Turkmen</text>
<text x="382.8" y="325.5" font-size="6.3" text-anchor="end" fill="#1c1c1c" font-weight="normal" stroke="#1c1c1c" stroke-width="0.16">9</text>
<text x="383.3" y="325.5" font-size="6.3" text-anchor="start" fill="#1c1c1c" font-weight="normal" stroke="#1c1c1c" stroke-width="0.16">Uygur</text>
<text x="382.8" y="333.75" font-size="6.3" text-anchor="end" fill="#1c1c1c" font-weight="normal" stroke="#1c1c1c" stroke-width="0.16">10</text>
<text x="383.3" y="333.75" font-size="6.3" text-anchor="start" fill="#1c1c1c" font-weight="normal" stroke="#1c1c1c" stroke-width="0.16">Kyrgyz</text>
<text x="382.8" y="341.75" font-size="6.3" text-anchor="end" fill="#1c1c1c" font-weight="normal" stroke="#1c1c1c" stroke-width="0.16">11</text>
<text x="383.3" y="341.75" font-size="6.3" text-anchor="start" fill="#1c1c1c" font-weight="normal" stroke="#1c1c1c" stroke-width="0.16">Kyrgyz-Tdj</text>
<text x="382.8" y="349.5" font-size="6.3" text-anchor="end" fill="#1c1c1c" font-weight="normal" stroke="#1c1c1c" stroke-width="0.16">12</text>
<text x="383.3" y="349.5" font-size="6.3" text-anchor="start" fill="#1c1c1c" font-weight="normal" stroke="#1c1c1c" stroke-width="0.16">Uzbek</text>
<text x="382.8" y="357.25" font-size="6.3" text-anchor="end" fill="#1c1c1c" font-weight="normal" stroke="#1c1c1c" stroke-width="0.16">13</text>
<text x="383.3" y="357.25" font-size="6.3" text-anchor="start" fill="#1c1c1c" font-weight="normal" stroke="#1c1c1c" stroke-width="0.16">Kazakh</text>
<text x="379.5" y="284.85" font-size="6.3" text-anchor="start" fill="#1c1c1c" font-weight="normal" stroke="#1c1c1c" stroke-width="0.16">34</text>
<text x="388" y="284.85" font-size="6.3" text-anchor="start" fill="#1c1c1c" font-weight="normal" stroke="#1c1c1c" stroke-width="0.16">Tajik</text>
<text x="475.8" y="256.5" font-size="6.3" text-anchor="end" fill="#1c1c1c" font-weight="normal" stroke="#1c1c1c" stroke-width="0.16">1</text>
<text x="476.6" y="256.5" font-size="6.3" text-anchor="start" fill="#1c1c1c" font-weight="normal" stroke="#1c1c1c" stroke-width="0.16">Shor</text>
<text x="475.8" y="264.55" font-size="6.3" text-anchor="end" fill="#1c1c1c" font-weight="normal" stroke="#1c1c1c" stroke-width="0.16">2</text>
<text x="476.6" y="264.55" font-size="6.3" text-anchor="start" fill="#1c1c1c" font-weight="normal" stroke="#1c1c1c" stroke-width="0.16">Altaian</text>
<text x="475.8" y="272.6" font-size="6.3" text-anchor="end" fill="#1c1c1c" font-weight="normal" stroke="#1c1c1c" stroke-width="0.16">3</text>
<text x="476.6" y="272.6" font-size="6.3" text-anchor="start" fill="#1c1c1c" font-weight="normal" stroke="#1c1c1c" stroke-width="0.16">Tuvinian</text>
<text x="475.8" y="280.65" font-size="6.3" text-anchor="end" fill="#1c1c1c" font-weight="normal" stroke="#1c1c1c" stroke-width="0.16">4</text>
<text x="476.6" y="280.65" font-size="6.3" text-anchor="start" fill="#1c1c1c" font-weight="normal" stroke="#1c1c1c" stroke-width="0.16">Buryats</text>
<text x="475.8" y="288.7" font-size="6.3" text-anchor="end" fill="#1c1c1c" font-weight="normal" stroke="#1c1c1c" stroke-width="0.16">5</text>
<text x="476.6" y="288.7" font-size="6.3" text-anchor="start" fill="#1c1c1c" font-weight="normal" stroke="#1c1c1c" stroke-width="0.16">Tubalar</text>
<text x="475.8" y="296.75" font-size="6.3" text-anchor="end" fill="#1c1c1c" font-weight="normal" stroke="#1c1c1c" stroke-width="0.16">6</text>
<text x="476.6" y="296.75" font-size="6.3" text-anchor="start" fill="#1c1c1c" font-weight="normal" stroke="#1c1c1c" stroke-width="0.16">Ulchi</text>
<text x="475.8" y="304.8" font-size="6.3" text-anchor="end" fill="#1c1c1c" font-weight="normal" stroke="#1c1c1c" stroke-width="0.16">7</text>
<text x="476.6" y="304.8" font-size="6.3" text-anchor="start" fill="#1c1c1c" font-weight="normal" stroke="#1c1c1c" stroke-width="0.16">Khantys</text>
<text x="475.8" y="312.85" font-size="6.3" text-anchor="end" fill="#1c1c1c" font-weight="normal" stroke="#1c1c1c" stroke-width="0.16">8</text>
<text x="476.6" y="312.85" font-size="6.3" text-anchor="start" fill="#1c1c1c" font-weight="normal" stroke="#1c1c1c" stroke-width="0.16">Selkups</text>
<text x="475.8" y="320.9" font-size="6.3" text-anchor="end" fill="#1c1c1c" font-weight="normal" stroke="#1c1c1c" stroke-width="0.16">9</text>
<text x="476.6" y="320.9" font-size="6.3" text-anchor="start" fill="#1c1c1c" font-weight="normal" stroke="#1c1c1c" stroke-width="0.16">Mansi</text>
<text x="475.8" y="328.95" font-size="6.3" text-anchor="end" fill="#1c1c1c" font-weight="normal" stroke="#1c1c1c" stroke-width="0.16">10</text>
<text x="476.6" y="328.95" font-size="6.3" text-anchor="start" fill="#1c1c1c" font-weight="normal" stroke="#1c1c1c" stroke-width="0.16">Kets</text>
<text x="475.8" y="337" font-size="6.3" text-anchor="end" fill="#1c1c1c" font-weight="normal" stroke="#1c1c1c" stroke-width="0.16">11</text>
<text x="476.6" y="337" font-size="6.3" text-anchor="start" fill="#1c1c1c" font-weight="normal" stroke="#1c1c1c" stroke-width="0.16">Nganasan</text>
<clipPath id="cp"><rect x="460" y="335" width="50.2" height="12"/></clipPath>
<text x="465.8" y="345.15" font-size="6.3" fill="#1c1c1c" stroke="#1c1c1c" stroke-width="0.16" clip-path="url(#cp)">12-13 Mongolian</text>
<text x="468.7" y="361.75" font-size="6.3" text-anchor="start" fill="#ad1c2b" font-weight="bold" stroke="#ad1c2b" stroke-width="0.16">14</text>
<text x="476.7" y="361.75" font-size="6.3" text-anchor="start" fill="#ad1c2b" font-weight="bold" stroke="#ad1c2b" stroke-width="0.16" text-decoration="underline">Yakut</text>
<text x="468.7" y="369.75" font-size="6.3" text-anchor="start" fill="#ad1c2b" font-weight="bold" stroke="#ad1c2b" stroke-width="0.16">15</text>
<text x="476.7" y="369.75" font-size="6.3" text-anchor="start" fill="#ad1c2b" font-weight="bold" stroke="#ad1c2b" stroke-width="0.16">Sakha-Mixed</text>
<path d="M468 358.8H463.3V367.6H468" fill="none" stroke="#c0303a" stroke-width="0.6"/>
<text x="522.2" y="257.25" font-size="6.3" text-anchor="end" fill="#1c1c1c" font-weight="normal" stroke="#1c1c1c" stroke-width="0.16">16</text>
<text x="523" y="257.25" font-size="6.3" text-anchor="start" fill="#1c1c1c" font-weight="normal" stroke="#1c1c1c" stroke-width="0.16">Evens-Sakha</text>
<text x="523" y="265.55" font-size="6.3" text-anchor="start" fill="#1c1c1c" font-weight="normal" stroke="#1c1c1c" stroke-width="0.16">Evens-</text>
<text x="522.2" y="272.55" font-size="6.3" text-anchor="end" fill="#1c1c1c" font-weight="normal" stroke="#1c1c1c" stroke-width="0.16">17</text>
<text x="523" y="272.55" font-size="6.3" text-anchor="start" fill="#1c1c1c" font-weight="normal" stroke="#1c1c1c" stroke-width="0.16">Magadan</text>
<text x="522.2" y="281.05" font-size="6.3" text-anchor="end" fill="#1c1c1c" font-weight="normal" stroke="#1c1c1c" stroke-width="0.16">18</text>
<text x="523" y="281.05" font-size="6.3" text-anchor="start" fill="#1c1c1c" font-weight="normal" stroke="#1c1c1c" stroke-width="0.16">Even</text>
<text x="522.2" y="289.25" font-size="6.3" text-anchor="end" fill="#1c1c1c" font-weight="normal" stroke="#1c1c1c" stroke-width="0.16">19</text>
<text x="523" y="289.25" font-size="6.3" text-anchor="start" fill="#1c1c1c" font-weight="normal" stroke="#1c1c1c" stroke-width="0.16">Aleut</text>
<text x="522.2" y="297.25" font-size="6.3" text-anchor="end" fill="#1c1c1c" font-weight="normal" stroke="#1c1c1c" stroke-width="0.16">20</text>
<text x="523" y="297.25" font-size="6.3" text-anchor="start" fill="#1c1c1c" font-weight="normal" stroke="#1c1c1c" stroke-width="0.16">Koryaks</text>
<text x="522.2" y="305.65" font-size="6.3" text-anchor="end" fill="#1c1c1c" font-weight="normal" stroke="#1c1c1c" stroke-width="0.16">21</text>
<text x="523" y="305.65" font-size="6.3" text-anchor="start" fill="#1c1c1c" font-weight="normal" stroke="#1c1c1c" stroke-width="0.16">Itelman</text>
<text x="522.2" y="313.65" font-size="6.3" text-anchor="end" fill="#1c1c1c" font-weight="normal" stroke="#1c1c1c" stroke-width="0.16">22</text>
<text x="523" y="313.65" font-size="6.3" text-anchor="start" fill="#1c1c1c" font-weight="normal" stroke="#1c1c1c" stroke-width="0.16">Hezhen</text>
<text x="522.2" y="321.65" font-size="6.3" text-anchor="end" fill="#1c1c1c" font-weight="normal" stroke="#1c1c1c" stroke-width="0.16">23</text>
<text x="523" y="321.65" font-size="6.3" text-anchor="start" fill="#1c1c1c" font-weight="normal" stroke="#1c1c1c" stroke-width="0.16">Tundra-Nenets</text>
<text x="522.2" y="329.75" font-size="6.3" text-anchor="end" fill="#1c1c1c" font-weight="normal" stroke="#1c1c1c" stroke-width="0.16">24</text>
<text x="523" y="329.75" font-size="6.3" text-anchor="start" fill="#1c1c1c" font-weight="normal" stroke="#1c1c1c" stroke-width="0.16">Forest-Nenets</text>
<text x="522.2" y="337.45" font-size="6.3" text-anchor="end" fill="#1c1c1c" font-weight="normal" stroke="#1c1c1c" stroke-width="0.16">25</text>
<text x="523" y="337.45" font-size="6.3" text-anchor="start" fill="#1c1c1c" font-weight="normal" stroke="#1c1c1c" stroke-width="0.16">Evenks</text>
<text x="522.2" y="345.45" font-size="6.3" text-anchor="end" fill="#1c1c1c" font-weight="normal" stroke="#1c1c1c" stroke-width="0.16">26</text>
<text x="523" y="345.45" font-size="6.3" text-anchor="start" fill="#1c1c1c" font-weight="normal" stroke="#1c1c1c" stroke-width="0.16">Chukchi</text>
<text x="522.2" y="353.75" font-size="6.3" text-anchor="end" fill="#1c1c1c" font-weight="normal" stroke="#1c1c1c" stroke-width="0.16">27</text>
<text x="523" y="353.75" font-size="6.3" text-anchor="start" fill="#1c1c1c" font-weight="normal" stroke="#1c1c1c" stroke-width="0.16">Eskimo-Sireniki</text>
<text x="522.2" y="361.75" font-size="6.3" text-anchor="end" fill="#1c1c1c" font-weight="normal" stroke="#1c1c1c" stroke-width="0.16">28</text>
<text x="523" y="361.75" font-size="6.3" text-anchor="start" fill="#1c1c1c" font-weight="normal" stroke="#1c1c1c" stroke-width="0.16">Eskimo-Naukan</text>
<text x="522.2" y="370" font-size="6.3" text-anchor="end" fill="#1c1c1c" font-weight="normal" stroke="#1c1c1c" stroke-width="0.16">29</text>
<text x="523" y="370" font-size="6.3" text-anchor="start" fill="#1c1c1c" font-weight="normal" stroke="#1c1c1c" stroke-width="0.16">Eskimo-Chaplin</text>
<text x="522.2" y="378.25" font-size="6.3" text-anchor="end" fill="#1c1c1c" font-weight="normal" stroke="#1c1c1c" stroke-width="0.16">30</text>
<text x="523" y="378.25" font-size="6.3" text-anchor="start" fill="#1c1c1c" font-weight="normal" stroke="#1c1c1c" stroke-width="0.16">Eskimo</text>
<text x="639.3" y="255.25" font-size="6.3" text-anchor="end" fill="#1c1c1c" font-weight="normal" stroke="#1c1c1c" stroke-width="0.16">1</text>
<text x="640" y="255.25" font-size="6.3" text-anchor="start" fill="#1c1c1c" font-weight="normal" stroke="#1c1c1c" stroke-width="0.16">Malayan</text>
<text x="639.3" y="263.25" font-size="6.3" text-anchor="end" fill="#1c1c1c" font-weight="normal" stroke="#1c1c1c" stroke-width="0.16">2</text>
<text x="640" y="263.25" font-size="6.3" text-anchor="start" fill="#1c1c1c" font-weight="normal" stroke="#1c1c1c" stroke-width="0.16">Cambodian</text>
<text x="639.3" y="271.25" font-size="6.3" text-anchor="end" fill="#1c1c1c" font-weight="normal" stroke="#1c1c1c" stroke-width="0.16">3-4</text>
<text x="640" y="271.25" font-size="6.3" text-anchor="start" fill="#1c1c1c" font-weight="normal" stroke="#1c1c1c" stroke-width="0.16">Burmese</text>
<text x="639.3" y="279.05" font-size="6.3" text-anchor="end" fill="#1c1c1c" font-weight="normal" stroke="#1c1c1c" stroke-width="0.16">5</text>
<text x="640" y="279.05" font-size="6.3" text-anchor="start" fill="#1c1c1c" font-weight="normal" stroke="#1c1c1c" stroke-width="0.16">Kinh</text>
<text x="639.3" y="287.05" font-size="6.3" text-anchor="end" fill="#1c1c1c" font-weight="normal" stroke="#1c1c1c" stroke-width="0.16">6</text>
<text x="640" y="287.05" font-size="6.3" text-anchor="start" fill="#1c1c1c" font-weight="normal" stroke="#1c1c1c" stroke-width="0.16">Thai</text>
<text x="639.3" y="295.15" font-size="6.3" text-anchor="end" fill="#1c1c1c" font-weight="normal" stroke="#1c1c1c" stroke-width="0.16">7</text>
<text x="640" y="295.15" font-size="6.3" text-anchor="start" fill="#1c1c1c" font-weight="normal" stroke="#1c1c1c" stroke-width="0.16">Tu</text>
<text x="639.3" y="302.85" font-size="6.3" text-anchor="end" fill="#1c1c1c" font-weight="normal" stroke="#1c1c1c" stroke-width="0.16">8</text>
<text x="640" y="302.85" font-size="6.3" text-anchor="start" fill="#1c1c1c" font-weight="normal" stroke="#1c1c1c" stroke-width="0.16">Naxi</text>
<text x="639.3" y="310.95" font-size="6.3" text-anchor="end" fill="#1c1c1c" font-weight="normal" stroke="#1c1c1c" stroke-width="0.16">9</text>
<text x="640" y="310.95" font-size="6.3" text-anchor="start" fill="#1c1c1c" font-weight="normal" stroke="#1c1c1c" stroke-width="0.16">Lahu</text>
<text x="639.3" y="319.25" font-size="6.3" text-anchor="end" fill="#1c1c1c" font-weight="normal" stroke="#1c1c1c" stroke-width="0.16">10</text>
<text x="640" y="319.25" font-size="6.3" text-anchor="start" fill="#1c1c1c" font-weight="normal" stroke="#1c1c1c" stroke-width="0.16">Miao</text>
<text x="639.3" y="327.25" font-size="6.3" text-anchor="end" fill="#1c1c1c" font-weight="normal" stroke="#1c1c1c" stroke-width="0.16">11</text>
<text x="640" y="327.25" font-size="6.3" text-anchor="start" fill="#1c1c1c" font-weight="normal" stroke="#1c1c1c" stroke-width="0.16">Oroqen</text>
<text x="639.3" y="335.25" font-size="6.3" text-anchor="end" fill="#1c1c1c" font-weight="normal" stroke="#1c1c1c" stroke-width="0.16">12</text>
<text x="640" y="335.25" font-size="6.3" text-anchor="start" fill="#1c1c1c" font-weight="normal" stroke="#1c1c1c" stroke-width="0.16">Tujia</text>
<text x="639.3" y="343.15" font-size="6.3" text-anchor="end" fill="#1c1c1c" font-weight="normal" stroke="#1c1c1c" stroke-width="0.16">13</text>
<text x="640" y="343.15" font-size="6.3" text-anchor="start" fill="#1c1c1c" font-weight="normal" stroke="#1c1c1c" stroke-width="0.16">Xibo</text>
<text x="639.3" y="350.95" font-size="6.3" text-anchor="end" fill="#1c1c1c" font-weight="normal" stroke="#1c1c1c" stroke-width="0.16">14</text>
<text x="640" y="350.95" font-size="6.3" text-anchor="start" fill="#1c1c1c" font-weight="normal" stroke="#1c1c1c" stroke-width="0.16">Daur</text>
<text x="639.3" y="359" font-size="6.3" text-anchor="end" fill="#1c1c1c" font-weight="normal" stroke="#1c1c1c" stroke-width="0.16">15</text>
<text x="640" y="359" font-size="6.3" text-anchor="start" fill="#1c1c1c" font-weight="normal" stroke="#1c1c1c" stroke-width="0.16">Japanese</text>
<text x="639.3" y="367" font-size="6.3" text-anchor="end" fill="#1c1c1c" font-weight="normal" stroke="#1c1c1c" stroke-width="0.16">16</text>
<text x="640" y="367" font-size="6.3" text-anchor="start" fill="#1c1c1c" font-weight="normal" stroke="#1c1c1c" stroke-width="0.16">Korean</text>
<text x="639.3" y="375" font-size="6.3" text-anchor="end" fill="#1c1c1c" font-weight="normal" stroke="#1c1c1c" stroke-width="0.16">17</text>
<text x="640" y="375" font-size="6.3" text-anchor="start" fill="#1c1c1c" font-weight="normal" stroke="#1c1c1c" stroke-width="0.16">Yi</text>
<text x="639.3" y="383" font-size="6.3" text-anchor="end" fill="#1c1c1c" font-weight="normal" stroke="#1c1c1c" stroke-width="0.16">18</text>
<text x="640" y="383" font-size="6.3" text-anchor="start" fill="#1c1c1c" font-weight="normal" stroke="#1c1c1c" stroke-width="0.16">Dai</text>
<text x="639.3" y="391" font-size="6.3" text-anchor="end" fill="#1c1c1c" font-weight="normal" stroke="#1c1c1c" stroke-width="0.16">19</text>
<text x="640" y="391" font-size="6.3" text-anchor="start" fill="#1c1c1c" font-weight="normal" stroke="#1c1c1c" stroke-width="0.16">Ami</text>
<text x="639.3" y="399" font-size="6.3" text-anchor="end" fill="#1c1c1c" font-weight="normal" stroke="#1c1c1c" stroke-width="0.16">20</text>
<text x="640" y="399" font-size="6.3" text-anchor="start" fill="#1c1c1c" font-weight="normal" stroke="#1c1c1c" stroke-width="0.16">Atayal</text>
<text x="639.3" y="406.75" font-size="6.3" text-anchor="end" fill="#1c1c1c" font-weight="normal" stroke="#1c1c1c" stroke-width="0.16">21</text>
<text x="640" y="406.75" font-size="6.3" text-anchor="start" fill="#1c1c1c" font-weight="normal" stroke="#1c1c1c" stroke-width="0.16">She</text>
<text x="639.3" y="414.75" font-size="6.3" text-anchor="end" fill="#1c1c1c" font-weight="normal" stroke="#1c1c1c" stroke-width="0.16">22</text>
<text x="640" y="414.75" font-size="6.3" text-anchor="start" fill="#1c1c1c" font-weight="normal" stroke="#1c1c1c" stroke-width="0.16">Han</text>
<text x="640" y="423" font-size="6.3" text-anchor="start" fill="#1c1c1c" font-weight="normal" stroke="#1c1c1c" stroke-width="0.16">Vietnamese-</text>
<text x="639.3" y="430.5" font-size="6.3" text-anchor="end" fill="#1c1c1c" font-weight="normal" stroke="#1c1c1c" stroke-width="0.16">24</text>
<text x="640" y="430.5" font-size="6.3" text-anchor="start" fill="#1c1c1c" font-weight="normal" stroke="#1c1c1c" stroke-width="0.16">Central</text>
<text x="639.3" y="438.75" font-size="6.3" text-anchor="end" fill="#1c1c1c" font-weight="normal" stroke="#1c1c1c" stroke-width="0.16">24</text>
<text x="640" y="438.75" font-size="6.3" text-anchor="start" fill="#1c1c1c" font-weight="normal" stroke="#1c1c1c" stroke-width="0.16">Vietnamese-</text>
<text x="630.3" y="343.15" font-size="6.3" text-anchor="start" fill="#1c1c1c" font-weight="normal" stroke="#1c1c1c" stroke-width="0.16">j</text>
<text x="716" y="256.25" font-size="6.3" text-anchor="end" fill="#1c1c1c" font-weight="normal" stroke="#1c1c1c" stroke-width="0.16">1</text>
<text x="716.8" y="256.25" font-size="6.3" text-anchor="start" fill="#1c1c1c" font-weight="normal" stroke="#1c1c1c" stroke-width="0.16">Kusunda</text>
<text x="716" y="264.25" font-size="6.3" text-anchor="end" fill="#1c1c1c" font-weight="normal" stroke="#1c1c1c" stroke-width="0.16">2</text>
<text x="716.8" y="264.25" font-size="6.3" text-anchor="start" fill="#1c1c1c" font-weight="normal" stroke="#1c1c1c" stroke-width="0.16">Marwadi</text>
<text x="716" y="272.25" font-size="6.3" text-anchor="end" fill="#1c1c1c" font-weight="normal" stroke="#1c1c1c" stroke-width="0.16">3</text>
<text x="716.8" y="272.25" font-size="6.3" text-anchor="start" fill="#1c1c1c" font-weight="normal" stroke="#1c1c1c" stroke-width="0.16">Kurmi</text>
<text x="716" y="280.05" font-size="6.3" text-anchor="end" fill="#1c1c1c" font-weight="normal" stroke="#1c1c1c" stroke-width="0.16">4</text>
<text x="716.8" y="280.05" font-size="6.3" text-anchor="start" fill="#1c1c1c" font-weight="normal" stroke="#1c1c1c" stroke-width="0.16">Santhal</text>
<text x="716" y="288.05" font-size="6.3" text-anchor="end" fill="#1c1c1c" font-weight="normal" stroke="#1c1c1c" stroke-width="0.16">5</text>
<text x="716.8" y="288.05" font-size="6.3" text-anchor="start" fill="#1c1c1c" font-weight="normal" stroke="#1c1c1c" stroke-width="0.16">Tamang</text>
<text x="716" y="296.15" font-size="6.3" text-anchor="end" fill="#1c1c1c" font-weight="normal" stroke="#1c1c1c" stroke-width="0.16">6</text>
<text x="716.8" y="296.15" font-size="6.3" text-anchor="start" fill="#1c1c1c" font-weight="normal" stroke="#1c1c1c" stroke-width="0.16">Thakur</text>
<text x="716" y="304.15" font-size="6.3" text-anchor="end" fill="#1c1c1c" font-weight="normal" stroke="#1c1c1c" stroke-width="0.16">7</text>
<text x="716.8" y="304.15" font-size="6.3" text-anchor="start" fill="#1c1c1c" font-weight="normal" stroke="#1c1c1c" stroke-width="0.16">Khonda-</text>
<text x="716.8" y="311.65" font-size="6.3" text-anchor="start" fill="#1c1c1c" font-weight="normal" stroke="#1c1c1c" stroke-width="0.16">Dora</text>
<text x="716" y="320.25" font-size="6.3" text-anchor="end" fill="#1c1c1c" font-weight="normal" stroke="#1c1c1c" stroke-width="0.16">8-9</text>
<text x="716.8" y="320.25" font-size="6.3" text-anchor="start" fill="#1c1c1c" font-weight="normal" stroke="#1c1c1c" stroke-width="0.16">Brahmin</text>
<text x="716" y="328.25" font-size="6.3" text-anchor="end" fill="#1c1c1c" font-weight="normal" stroke="#1c1c1c" stroke-width="0.16">10</text>
<text x="716.8" y="328.25" font-size="6.3" text-anchor="start" fill="#1c1c1c" font-weight="normal" stroke="#1c1c1c" stroke-width="0.16">Kshatriya</text>
<text x="716" y="336.25" font-size="6.3" text-anchor="end" fill="#1c1c1c" font-weight="normal" stroke="#1c1c1c" stroke-width="0.16">11</text>
<text x="716.8" y="336.25" font-size="6.3" text-anchor="start" fill="#1c1c1c" font-weight="normal" stroke="#1c1c1c" stroke-width="0.16">Gupta</text>
<text x="716" y="344.25" font-size="6.3" text-anchor="end" fill="#1c1c1c" font-weight="normal" stroke="#1c1c1c" stroke-width="0.16">12</text>
<text x="716.8" y="344.25" font-size="6.3" text-anchor="start" fill="#1c1c1c" font-weight="normal" stroke="#1c1c1c" stroke-width="0.16">Madiga</text>
<text x="716" y="352.45" font-size="6.3" text-anchor="end" fill="#1c1c1c" font-weight="normal" stroke="#1c1c1c" stroke-width="0.16">13</text>
<text x="716.8" y="352.45" font-size="6.3" text-anchor="start" fill="#1c1c1c" font-weight="normal" stroke="#1c1c1c" stroke-width="0.16">Irula</text>
<text x="716" y="360.75" font-size="6.3" text-anchor="end" fill="#1c1c1c" font-weight="normal" stroke="#1c1c1c" stroke-width="0.16">14</text>
<text x="716.8" y="360.75" font-size="6.3" text-anchor="start" fill="#1c1c1c" font-weight="normal" stroke="#1c1c1c" stroke-width="0.16">Mala</text>
<text x="716" y="369" font-size="6.3" text-anchor="end" fill="#1c1c1c" font-weight="normal" stroke="#1c1c1c" stroke-width="0.16">15</text>
<text x="716.8" y="369" font-size="6.3" text-anchor="start" fill="#1c1c1c" font-weight="normal" stroke="#1c1c1c" stroke-width="0.16">Kapu</text>
<text x="716" y="376.75" font-size="6.3" text-anchor="end" fill="#1c1c1c" font-weight="normal" stroke="#1c1c1c" stroke-width="0.16">16</text>
<text x="716.8" y="376.75" font-size="6.3" text-anchor="start" fill="#1c1c1c" font-weight="normal" stroke="#1c1c1c" stroke-width="0.16">Brahui</text>
<text x="716" y="384.75" font-size="6.3" text-anchor="end" fill="#1c1c1c" font-weight="normal" stroke="#1c1c1c" stroke-width="0.16">17</text>
<text x="716.8" y="384.75" font-size="6.3" text-anchor="start" fill="#1c1c1c" font-weight="normal" stroke="#1c1c1c" stroke-width="0.16">Kol</text>
<text x="752.4" y="256.25" font-size="6.3" text-anchor="end" fill="#1c1c1c" font-weight="normal" stroke="#1c1c1c" stroke-width="0.16">18</text>
<text x="752.9" y="256.25" font-size="6.3" text-anchor="start" fill="#1c1c1c" font-weight="normal" stroke="#1c1c1c" stroke-width="0.16">Balija</text>
<text x="752.4" y="264.25" font-size="6.3" text-anchor="end" fill="#1c1c1c" font-weight="normal" stroke="#1c1c1c" stroke-width="0.16">19</text>
<text x="752.9" y="264.25" font-size="6.3" text-anchor="start" fill="#1c1c1c" font-weight="normal" stroke="#1c1c1c" stroke-width="0.16">Orissa</text>
<text x="752.4" y="272.25" font-size="6.3" text-anchor="end" fill="#1c1c1c" font-weight="normal" stroke="#1c1c1c" stroke-width="0.16">20</text>
<text x="752.9" y="272.25" font-size="6.3" text-anchor="start" fill="#1c1c1c" font-weight="normal" stroke="#1c1c1c" stroke-width="0.16">Relli</text>
<text x="752.4" y="280.05" font-size="6.3" text-anchor="end" fill="#1c1c1c" font-weight="normal" stroke="#1c1c1c" stroke-width="0.16">21</text>
<text x="752.9" y="280.05" font-size="6.3" text-anchor="start" fill="#1c1c1c" font-weight="normal" stroke="#1c1c1c" stroke-width="0.16">Yadava</text>
<text x="752.4" y="288.05" font-size="6.3" text-anchor="end" fill="#1c1c1c" font-weight="normal" stroke="#1c1c1c" stroke-width="0.16">22</text>
<text x="752.9" y="288.05" font-size="6.3" text-anchor="start" fill="#1c1c1c" font-weight="normal" stroke="#1c1c1c" stroke-width="0.16">Bengali</text>
<text x="752.4" y="296.15" font-size="6.3" text-anchor="end" fill="#1c1c1c" font-weight="normal" stroke="#1c1c1c" stroke-width="0.16">23</text>
<text x="752.9" y="296.15" font-size="6.3" text-anchor="start" fill="#1c1c1c" font-weight="normal" stroke="#1c1c1c" stroke-width="0.16">Ho</text>
<text x="752.4" y="304.25" font-size="6.3" text-anchor="end" fill="#1c1c1c" font-weight="normal" stroke="#1c1c1c" stroke-width="0.16">24</text>
<text x="752.9" y="304.25" font-size="6.3" text-anchor="start" fill="#1c1c1c" font-weight="normal" stroke="#1c1c1c" stroke-width="0.16">Asur</text>
<text x="752.4" y="312.45" font-size="6.3" text-anchor="end" fill="#1c1c1c" font-weight="normal" stroke="#1c1c1c" stroke-width="0.16">25</text>
<text x="752.9" y="312.45" font-size="6.3" text-anchor="start" fill="#1c1c1c" font-weight="normal" stroke="#1c1c1c" stroke-width="0.16">Dhaka-</text>
<text x="752.9" y="319.65" font-size="6.3" text-anchor="start" fill="#1c1c1c" font-weight="normal" stroke="#1c1c1c" stroke-width="0.16">Mixed</text>
<text x="752.4" y="328.25" font-size="6.3" text-anchor="end" fill="#1c1c1c" font-weight="normal" stroke="#1c1c1c" stroke-width="0.16">26</text>
<text x="752.9" y="328.25" font-size="6.3" text-anchor="start" fill="#1c1c1c" font-weight="normal" stroke="#1c1c1c" stroke-width="0.16">Madhya-</text>
<text x="752.9" y="335.25" font-size="6.3" text-anchor="start" fill="#1c1c1c" font-weight="normal" stroke="#1c1c1c" stroke-width="0.16">Pradesh</text>
<text x="752.4" y="343.55" font-size="6.3" text-anchor="end" fill="#1c1c1c" font-weight="normal" stroke="#1c1c1c" stroke-width="0.16">27</text>
<text x="752.9" y="343.55" font-size="6.3" text-anchor="start" fill="#1c1c1c" font-weight="normal" stroke="#1c1c1c" stroke-width="0.16">Gond</text>
<text x="752.4" y="351.75" font-size="6.3" text-anchor="end" fill="#1c1c1c" font-weight="normal" stroke="#1c1c1c" stroke-width="0.16">28</text>
<text x="752.9" y="351.75" font-size="6.3" text-anchor="start" fill="#1c1c1c" font-weight="normal" stroke="#1c1c1c" stroke-width="0.16">Sindhi</text>
<text x="752.4" y="360" font-size="6.3" text-anchor="end" fill="#1c1c1c" font-weight="normal" stroke="#1c1c1c" stroke-width="0.16">29</text>
<text x="752.9" y="360" font-size="6.3" text-anchor="start" fill="#1c1c1c" font-weight="normal" stroke="#1c1c1c" stroke-width="0.16">Burusho</text>
<text x="752.4" y="368.5" font-size="6.3" text-anchor="end" fill="#1c1c1c" font-weight="normal" stroke="#1c1c1c" stroke-width="0.16">30</text>
<text x="752.9" y="368.5" font-size="6.3" text-anchor="start" fill="#1c1c1c" font-weight="normal" stroke="#1c1c1c" stroke-width="0.16">Makrani</text>
<text x="752.4" y="376.5" font-size="6.3" text-anchor="end" fill="#1c1c1c" font-weight="normal" stroke="#1c1c1c" stroke-width="0.16">31</text>
<text x="752.9" y="376.5" font-size="6.3" text-anchor="start" fill="#1c1c1c" font-weight="normal" stroke="#1c1c1c" stroke-width="0.16">Punjab</text>
<text x="752.4" y="384.5" font-size="6.3" text-anchor="end" fill="#1c1c1c" font-weight="normal" stroke="#1c1c1c" stroke-width="0.16">32</text>
<text x="752.9" y="384.5" font-size="6.3" text-anchor="start" fill="#1c1c1c" font-weight="normal" stroke="#1c1c1c" stroke-width="0.16">Pathan</text>
<text x="752.4" y="392.5" font-size="6.3" text-anchor="end" fill="#1c1c1c" font-weight="normal" stroke="#1c1c1c" stroke-width="0.16">33</text>
<text x="752.9" y="392.5" font-size="6.3" text-anchor="start" fill="#1c1c1c" font-weight="normal" stroke="#1c1c1c" stroke-width="0.16">Balochi</text>
<text x="752.4" y="400.25" font-size="6.3" text-anchor="end" fill="#1c1c1c" font-weight="normal" stroke="#1c1c1c" stroke-width="0.16">34</text>
<text x="752.9" y="400.25" font-size="6.3" text-anchor="start" fill="#1c1c1c" font-weight="normal" stroke="#1c1c1c" stroke-width="0.16">Kalash</text>
<circle cx="412" cy="265.6" r="0.35" fill="#444" opacity="0.6"/>
<circle cx="412" cy="267.6" r="0.35" fill="#444" opacity="0.6"/>
<circle cx="780.5" cy="326.5" r="0.3" fill="#444" opacity="0.4"/>
<circle cx="780.5" cy="341.5" r="0.3" fill="#444" opacity="0.35"/>
<circle cx="780.5" cy="350" r="0.3" fill="#444" opacity="0.3"/>
<circle cx="222.5" cy="227" r="0.3" fill="#444" opacity="0.3"/>
<rect x="94.5" y="397.5" width="50.5" height="22.7" fill="#f8e533"/>
<path d="M94.5 397.5 L94.5 413.5 L100.56 413.5 L100.56 415 L103.59 415 L103.59 415.5 L108.64 415.5 L108.64 414 L114.7 414 L114.7 415 L122.275 415 L122.275 415.5 L127.325 415.5 L127.325 414.5 L134.9 414.5 L134.9 414 L139.95 414 L139.95 415 L145 415 L145 397.5 Z" fill="#9291c8"/>
<path d="M94.5 397.5 L94.5 398 L109.65 398 L109.65 398.2 L124.8 398.2 L124.8 398 L145 398 L145 397.5 Z" fill="#3f4ca3"/>
<rect x="153" y="397" width="51.5" height="23.2" fill="#f8e533"/>
<path d="M153 397 L153 415 L157.12 415 L157.12 416 L163.3 416 L163.3 415 L168.45 415 L168.45 416 L174.63 416 L174.63 417 L179.78 417 L179.78 419 L182.87 419 L182.87 420.2 L189.05 420.2 L189.05 418 L190.595 418 L190.595 415.5 L199.35 415.5 L199.35 415 L204.5 415 L204.5 397 Z" fill="#9291c8"/>
<path d="M153 397 L153 397.6 L204.5 397.6 L204.5 397 Z" fill="#3f4ca3"/>
<rect x="468" y="397" width="53.8" height="22.3" fill="#f8e533"/>
<path d="M468 397 L468 418.3 L521.8 418.3 L521.8 397 Z" fill="#22ab4f"/>
<path d="M468 397 L468 410.8 L473.38 410.8 L473.38 410.4 L484.14 410.4 L484.14 410.9 L494.9 410.9 L494.9 410.5 L511.04 410.5 L511.04 410.8 L521.8 410.8 L521.8 397 Z" fill="#9291c8"/>
<path d="M468 397 L468 409.5 L472.304 409.5 L472.304 409 L476.07 409 L476.07 409.6 L485.754 409.6 L485.754 408.8 L487.906 408.8 L487.906 409.6 L492.21 409.6 L492.21 409.2 L500.28 409.2 L500.28 409.7 L508.35 409.7 L508.35 409 L513.73 409 L513.73 409.6 L521.8 409.6 L521.8 397 Z" fill="#3f4ca3"/>
<text x="121" y="427" font-size="7.1" text-anchor="middle" fill="#1a2354" font-weight="bold" stroke="#1a2354" stroke-width="0.16">Novgorod</text>
<text x="181" y="427" font-size="7.1" text-anchor="middle" fill="#1a2354" font-weight="bold" stroke="#1a2354" stroke-width="0.16">Pskov</text>
<text x="497" y="427.6" font-size="7.1" text-anchor="middle" fill="#ad1c2b" font-weight="bold" stroke="#ad1c2b" stroke-width="0.16">Yakut</text>
</svg></body></html>
